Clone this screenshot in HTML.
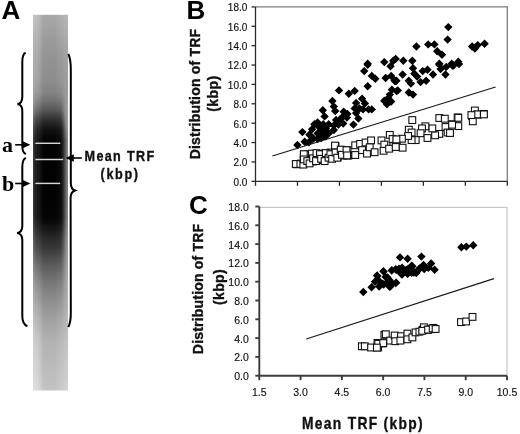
<!DOCTYPE html>
<html><head><meta charset="utf-8">
<style>
html,body{margin:0;padding:0;background:#fff;}
body{width:520px;height:434px;overflow:hidden;position:relative;}
svg{position:absolute;left:0;top:0;will-change:transform;}
text{font-family:"Liberation Sans",sans-serif;}
.tk{font-size:10px;fill:#111;stroke:#111;stroke-width:0.15px;}
.ttl{font-size:14px;font-weight:bold;fill:#111;letter-spacing:0.4px;stroke:#111;stroke-width:0.35px;}
.pl{font-size:26px;font-weight:bold;fill:#000;}
</style></head><body>
<svg width="520" height="434" viewBox="0 0 520 434">
<defs>
<linearGradient id="c0" x1="0" y1="0" x2="0" y2="1"><stop offset="0.0000" stop-color="#c3c3c3"/><stop offset="0.0671" stop-color="#b7b7b7"/><stop offset="0.1203" stop-color="#aeaeae"/><stop offset="0.1735" stop-color="#a9a9a9"/><stop offset="0.2055" stop-color="#a3a3a3"/><stop offset="0.2268" stop-color="#989898"/><stop offset="0.2534" stop-color="#858585"/><stop offset="0.2747" stop-color="#6b6b6b"/><stop offset="0.2907" stop-color="#585858"/><stop offset="0.2933" stop-color="#555555"/><stop offset="0.3066" stop-color="#484848"/><stop offset="0.3226" stop-color="#3d3d3d"/><stop offset="0.3332" stop-color="#383838"/><stop offset="0.3386" stop-color="#363636"/><stop offset="0.4929" stop-color="#363636"/><stop offset="0.5329" stop-color="#373737"/><stop offset="0.5409" stop-color="#383838"/><stop offset="0.5675" stop-color="#494949"/><stop offset="0.5941" stop-color="#5a5a5a"/><stop offset="0.5994" stop-color="#5d5d5d"/><stop offset="0.6207" stop-color="#686868"/><stop offset="0.6260" stop-color="#6b6b6b"/><stop offset="0.6473" stop-color="#797979"/><stop offset="0.6739" stop-color="#898989"/><stop offset="0.6793" stop-color="#8c8c8c"/><stop offset="0.7059" stop-color="#999999"/><stop offset="0.7378" stop-color="#a7a7a7"/><stop offset="0.7591" stop-color="#aeaeae"/><stop offset="0.7724" stop-color="#b3b3b3"/><stop offset="0.8124" stop-color="#bfbfbf"/><stop offset="0.8656" stop-color="#cdcdcd"/><stop offset="1.0000" stop-color="#dfdfdf"/></linearGradient><linearGradient id="c1" x1="0" y1="0" x2="0" y2="1"><stop offset="0.0000" stop-color="#c2c2c2"/><stop offset="0.0671" stop-color="#b6b6b6"/><stop offset="0.1203" stop-color="#adadad"/><stop offset="0.1735" stop-color="#a8a8a8"/><stop offset="0.2055" stop-color="#a0a0a0"/><stop offset="0.2268" stop-color="#949494"/><stop offset="0.2534" stop-color="#7d7d7d"/><stop offset="0.2747" stop-color="#606060"/><stop offset="0.2907" stop-color="#4d4d4d"/><stop offset="0.2933" stop-color="#4a4a4a"/><stop offset="0.3066" stop-color="#3d3d3d"/><stop offset="0.3226" stop-color="#323232"/><stop offset="0.3332" stop-color="#2e2e2e"/><stop offset="0.3386" stop-color="#2c2c2c"/><stop offset="0.4929" stop-color="#2b2b2b"/><stop offset="0.5329" stop-color="#2d2d2d"/><stop offset="0.5409" stop-color="#2e2e2e"/><stop offset="0.5675" stop-color="#3e3e3e"/><stop offset="0.5941" stop-color="#515151"/><stop offset="0.5994" stop-color="#535353"/><stop offset="0.6207" stop-color="#5f5f5f"/><stop offset="0.6260" stop-color="#626262"/><stop offset="0.6473" stop-color="#717171"/><stop offset="0.6739" stop-color="#838383"/><stop offset="0.6793" stop-color="#868686"/><stop offset="0.7059" stop-color="#949494"/><stop offset="0.7378" stop-color="#a3a3a3"/><stop offset="0.7591" stop-color="#ababab"/><stop offset="0.7724" stop-color="#b0b0b0"/><stop offset="0.8124" stop-color="#bdbdbd"/><stop offset="0.8656" stop-color="#cccccc"/><stop offset="1.0000" stop-color="#dedede"/></linearGradient><linearGradient id="c2" x1="0" y1="0" x2="0" y2="1"><stop offset="0.0000" stop-color="#c1c1c1"/><stop offset="0.0671" stop-color="#b5b5b5"/><stop offset="0.1203" stop-color="#acacac"/><stop offset="0.1735" stop-color="#a7a7a7"/><stop offset="0.2055" stop-color="#9e9e9e"/><stop offset="0.2268" stop-color="#8f8f8f"/><stop offset="0.2534" stop-color="#757575"/><stop offset="0.2747" stop-color="#565656"/><stop offset="0.2907" stop-color="#424242"/><stop offset="0.2933" stop-color="#3f3f3f"/><stop offset="0.3066" stop-color="#323232"/><stop offset="0.3226" stop-color="#282828"/><stop offset="0.3332" stop-color="#242424"/><stop offset="0.3386" stop-color="#222222"/><stop offset="0.4929" stop-color="#222222"/><stop offset="0.5329" stop-color="#232323"/><stop offset="0.5409" stop-color="#242424"/><stop offset="0.5675" stop-color="#353535"/><stop offset="0.5941" stop-color="#474747"/><stop offset="0.5994" stop-color="#4a4a4a"/><stop offset="0.6207" stop-color="#565656"/><stop offset="0.6260" stop-color="#5a5a5a"/><stop offset="0.6473" stop-color="#6a6a6a"/><stop offset="0.6739" stop-color="#7c7c7c"/><stop offset="0.6793" stop-color="#808080"/><stop offset="0.7059" stop-color="#8f8f8f"/><stop offset="0.7378" stop-color="#9f9f9f"/><stop offset="0.7591" stop-color="#a7a7a7"/><stop offset="0.7724" stop-color="#adadad"/><stop offset="0.8124" stop-color="#bbbbbb"/><stop offset="0.8656" stop-color="#cbcbcb"/><stop offset="1.0000" stop-color="#dddddd"/></linearGradient><linearGradient id="c3" x1="0" y1="0" x2="0" y2="1"><stop offset="0.0000" stop-color="#bfbfbf"/><stop offset="0.0671" stop-color="#b3b3b3"/><stop offset="0.1203" stop-color="#aaaaaa"/><stop offset="0.1735" stop-color="#a5a5a5"/><stop offset="0.2055" stop-color="#9b9b9b"/><stop offset="0.2268" stop-color="#8c8c8c"/><stop offset="0.2534" stop-color="#6f6f6f"/><stop offset="0.2747" stop-color="#4e4e4e"/><stop offset="0.2907" stop-color="#3a3a3a"/><stop offset="0.2933" stop-color="#383838"/><stop offset="0.3066" stop-color="#2a2a2a"/><stop offset="0.3226" stop-color="#212121"/><stop offset="0.3332" stop-color="#1e1e1e"/><stop offset="0.3386" stop-color="#1c1c1c"/><stop offset="0.4929" stop-color="#1b1b1b"/><stop offset="0.5329" stop-color="#1d1d1d"/><stop offset="0.5409" stop-color="#1d1d1d"/><stop offset="0.5675" stop-color="#2e2e2e"/><stop offset="0.5941" stop-color="#414141"/><stop offset="0.5994" stop-color="#444444"/><stop offset="0.6207" stop-color="#505050"/><stop offset="0.6260" stop-color="#545454"/><stop offset="0.6473" stop-color="#656565"/><stop offset="0.6739" stop-color="#787878"/><stop offset="0.6793" stop-color="#7b7b7b"/><stop offset="0.7059" stop-color="#8b8b8b"/><stop offset="0.7378" stop-color="#9c9c9c"/><stop offset="0.7591" stop-color="#a4a4a4"/><stop offset="0.7724" stop-color="#aaaaaa"/><stop offset="0.8124" stop-color="#b9b9b9"/><stop offset="0.8656" stop-color="#c9c9c9"/><stop offset="1.0000" stop-color="#dbdbdb"/></linearGradient><linearGradient id="c4" x1="0" y1="0" x2="0" y2="1"><stop offset="0.0000" stop-color="#bdbdbd"/><stop offset="0.0671" stop-color="#b1b1b1"/><stop offset="0.1203" stop-color="#a8a8a8"/><stop offset="0.1735" stop-color="#a3a3a3"/><stop offset="0.2055" stop-color="#999999"/><stop offset="0.2268" stop-color="#898989"/><stop offset="0.2534" stop-color="#6c6c6c"/><stop offset="0.2747" stop-color="#4b4b4b"/><stop offset="0.2907" stop-color="#373737"/><stop offset="0.2933" stop-color="#343434"/><stop offset="0.3066" stop-color="#272727"/><stop offset="0.3226" stop-color="#1e1e1e"/><stop offset="0.3332" stop-color="#1a1a1a"/><stop offset="0.3386" stop-color="#191919"/><stop offset="0.4929" stop-color="#181818"/><stop offset="0.5329" stop-color="#1a1a1a"/><stop offset="0.5409" stop-color="#1a1a1a"/><stop offset="0.5675" stop-color="#2b2b2b"/><stop offset="0.5941" stop-color="#3e3e3e"/><stop offset="0.5994" stop-color="#414141"/><stop offset="0.6207" stop-color="#4d4d4d"/><stop offset="0.6260" stop-color="#515151"/><stop offset="0.6473" stop-color="#626262"/><stop offset="0.6739" stop-color="#757575"/><stop offset="0.6793" stop-color="#787878"/><stop offset="0.7059" stop-color="#898989"/><stop offset="0.7378" stop-color="#999999"/><stop offset="0.7591" stop-color="#a2a2a2"/><stop offset="0.7724" stop-color="#a8a8a8"/><stop offset="0.8124" stop-color="#b7b7b7"/><stop offset="0.8656" stop-color="#c7c7c7"/><stop offset="1.0000" stop-color="#d9d9d9"/></linearGradient><linearGradient id="c5" x1="0" y1="0" x2="0" y2="1"><stop offset="0.0000" stop-color="#bbbbbb"/><stop offset="0.0671" stop-color="#afafaf"/><stop offset="0.1203" stop-color="#a6a6a6"/><stop offset="0.1735" stop-color="#a1a1a1"/><stop offset="0.2055" stop-color="#979797"/><stop offset="0.2268" stop-color="#878787"/><stop offset="0.2534" stop-color="#6a6a6a"/><stop offset="0.2747" stop-color="#494949"/><stop offset="0.2907" stop-color="#353535"/><stop offset="0.2933" stop-color="#323232"/><stop offset="0.3066" stop-color="#252525"/><stop offset="0.3226" stop-color="#1c1c1c"/><stop offset="0.3332" stop-color="#181818"/><stop offset="0.3386" stop-color="#171717"/><stop offset="0.4929" stop-color="#161616"/><stop offset="0.5329" stop-color="#181818"/><stop offset="0.5409" stop-color="#181818"/><stop offset="0.5675" stop-color="#292929"/><stop offset="0.5941" stop-color="#3c3c3c"/><stop offset="0.5994" stop-color="#3f3f3f"/><stop offset="0.6207" stop-color="#4b4b4b"/><stop offset="0.6260" stop-color="#4f4f4f"/><stop offset="0.6473" stop-color="#606060"/><stop offset="0.6739" stop-color="#737373"/><stop offset="0.6793" stop-color="#767676"/><stop offset="0.7059" stop-color="#878787"/><stop offset="0.7378" stop-color="#979797"/><stop offset="0.7591" stop-color="#a0a0a0"/><stop offset="0.7724" stop-color="#a6a6a6"/><stop offset="0.8124" stop-color="#b5b5b5"/><stop offset="0.8656" stop-color="#c5c5c5"/><stop offset="1.0000" stop-color="#d7d7d7"/></linearGradient><linearGradient id="c6" x1="0" y1="0" x2="0" y2="1"><stop offset="0.0000" stop-color="#b8b8b8"/><stop offset="0.0671" stop-color="#acacac"/><stop offset="0.1203" stop-color="#a3a3a3"/><stop offset="0.1735" stop-color="#9e9e9e"/><stop offset="0.2055" stop-color="#949494"/><stop offset="0.2268" stop-color="#848484"/><stop offset="0.2534" stop-color="#676767"/><stop offset="0.2747" stop-color="#464646"/><stop offset="0.2907" stop-color="#323232"/><stop offset="0.2933" stop-color="#2f2f2f"/><stop offset="0.3066" stop-color="#222222"/><stop offset="0.3226" stop-color="#191919"/><stop offset="0.3332" stop-color="#151515"/><stop offset="0.3386" stop-color="#141414"/><stop offset="0.4929" stop-color="#131313"/><stop offset="0.5329" stop-color="#141414"/><stop offset="0.5409" stop-color="#151515"/><stop offset="0.5675" stop-color="#262626"/><stop offset="0.5941" stop-color="#393939"/><stop offset="0.5994" stop-color="#3c3c3c"/><stop offset="0.6207" stop-color="#484848"/><stop offset="0.6260" stop-color="#4c4c4c"/><stop offset="0.6473" stop-color="#5d5d5d"/><stop offset="0.6739" stop-color="#707070"/><stop offset="0.6793" stop-color="#737373"/><stop offset="0.7059" stop-color="#848484"/><stop offset="0.7378" stop-color="#949494"/><stop offset="0.7591" stop-color="#9d9d9d"/><stop offset="0.7724" stop-color="#a3a3a3"/><stop offset="0.8124" stop-color="#b2b2b2"/><stop offset="0.8656" stop-color="#c2c2c2"/><stop offset="1.0000" stop-color="#d4d4d4"/></linearGradient><linearGradient id="c7" x1="0" y1="0" x2="0" y2="1"><stop offset="0.0000" stop-color="#b4b4b4"/><stop offset="0.0671" stop-color="#a8a8a8"/><stop offset="0.1203" stop-color="#9f9f9f"/><stop offset="0.1735" stop-color="#9a9a9a"/><stop offset="0.2055" stop-color="#909090"/><stop offset="0.2268" stop-color="#808080"/><stop offset="0.2534" stop-color="#636363"/><stop offset="0.2747" stop-color="#424242"/><stop offset="0.2907" stop-color="#2e2e2e"/><stop offset="0.2933" stop-color="#2b2b2b"/><stop offset="0.3066" stop-color="#1e1e1e"/><stop offset="0.3226" stop-color="#151515"/><stop offset="0.3332" stop-color="#111111"/><stop offset="0.3386" stop-color="#101010"/><stop offset="0.4929" stop-color="#0f0f0f"/><stop offset="0.5329" stop-color="#101010"/><stop offset="0.5409" stop-color="#111111"/><stop offset="0.5675" stop-color="#222222"/><stop offset="0.5941" stop-color="#353535"/><stop offset="0.5994" stop-color="#383838"/><stop offset="0.6207" stop-color="#444444"/><stop offset="0.6260" stop-color="#484848"/><stop offset="0.6473" stop-color="#595959"/><stop offset="0.6739" stop-color="#6c6c6c"/><stop offset="0.6793" stop-color="#6f6f6f"/><stop offset="0.7059" stop-color="#808080"/><stop offset="0.7378" stop-color="#909090"/><stop offset="0.7591" stop-color="#999999"/><stop offset="0.7724" stop-color="#9f9f9f"/><stop offset="0.8124" stop-color="#aeaeae"/><stop offset="0.8656" stop-color="#bebebe"/><stop offset="1.0000" stop-color="#d0d0d0"/></linearGradient><linearGradient id="c8" x1="0" y1="0" x2="0" y2="1"><stop offset="0.0000" stop-color="#b0b0b0"/><stop offset="0.0671" stop-color="#a4a4a4"/><stop offset="0.1203" stop-color="#9b9b9b"/><stop offset="0.1735" stop-color="#969696"/><stop offset="0.2055" stop-color="#8c8c8c"/><stop offset="0.2268" stop-color="#7c7c7c"/><stop offset="0.2534" stop-color="#5f5f5f"/><stop offset="0.2747" stop-color="#3e3e3e"/><stop offset="0.2907" stop-color="#2a2a2a"/><stop offset="0.2933" stop-color="#272727"/><stop offset="0.3066" stop-color="#1a1a1a"/><stop offset="0.3226" stop-color="#111111"/><stop offset="0.3332" stop-color="#0d0d0d"/><stop offset="0.3386" stop-color="#0c0c0c"/><stop offset="0.4929" stop-color="#0b0b0b"/><stop offset="0.5329" stop-color="#0c0c0c"/><stop offset="0.5409" stop-color="#0d0d0d"/><stop offset="0.5675" stop-color="#1e1e1e"/><stop offset="0.5941" stop-color="#313131"/><stop offset="0.5994" stop-color="#343434"/><stop offset="0.6207" stop-color="#404040"/><stop offset="0.6260" stop-color="#444444"/><stop offset="0.6473" stop-color="#555555"/><stop offset="0.6739" stop-color="#686868"/><stop offset="0.6793" stop-color="#6b6b6b"/><stop offset="0.7059" stop-color="#7c7c7c"/><stop offset="0.7378" stop-color="#8c8c8c"/><stop offset="0.7591" stop-color="#959595"/><stop offset="0.7724" stop-color="#9b9b9b"/><stop offset="0.8124" stop-color="#aaaaaa"/><stop offset="0.8656" stop-color="#bababa"/><stop offset="1.0000" stop-color="#cccccc"/></linearGradient><linearGradient id="c9" x1="0" y1="0" x2="0" y2="1"><stop offset="0.0000" stop-color="#acacac"/><stop offset="0.0671" stop-color="#a0a0a0"/><stop offset="0.1203" stop-color="#979797"/><stop offset="0.1735" stop-color="#929292"/><stop offset="0.2055" stop-color="#888888"/><stop offset="0.2268" stop-color="#787878"/><stop offset="0.2534" stop-color="#5b5b5b"/><stop offset="0.2747" stop-color="#3a3a3a"/><stop offset="0.2907" stop-color="#262626"/><stop offset="0.2933" stop-color="#232323"/><stop offset="0.3066" stop-color="#161616"/><stop offset="0.3226" stop-color="#0d0d0d"/><stop offset="0.3332" stop-color="#090909"/><stop offset="0.3386" stop-color="#080808"/><stop offset="0.4929" stop-color="#070707"/><stop offset="0.5329" stop-color="#080808"/><stop offset="0.5409" stop-color="#090909"/><stop offset="0.5675" stop-color="#1a1a1a"/><stop offset="0.5941" stop-color="#2d2d2d"/><stop offset="0.5994" stop-color="#303030"/><stop offset="0.6207" stop-color="#3c3c3c"/><stop offset="0.6260" stop-color="#404040"/><stop offset="0.6473" stop-color="#515151"/><stop offset="0.6739" stop-color="#646464"/><stop offset="0.6793" stop-color="#676767"/><stop offset="0.7059" stop-color="#787878"/><stop offset="0.7378" stop-color="#888888"/><stop offset="0.7591" stop-color="#919191"/><stop offset="0.7724" stop-color="#979797"/><stop offset="0.8124" stop-color="#a6a6a6"/><stop offset="0.8656" stop-color="#b6b6b6"/><stop offset="1.0000" stop-color="#c8c8c8"/></linearGradient><linearGradient id="c10" x1="0" y1="0" x2="0" y2="1"><stop offset="0.0000" stop-color="#a9a9a9"/><stop offset="0.0671" stop-color="#9d9d9d"/><stop offset="0.1203" stop-color="#949494"/><stop offset="0.1735" stop-color="#8f8f8f"/><stop offset="0.2055" stop-color="#858585"/><stop offset="0.2268" stop-color="#757575"/><stop offset="0.2534" stop-color="#585858"/><stop offset="0.2747" stop-color="#373737"/><stop offset="0.2907" stop-color="#232323"/><stop offset="0.2933" stop-color="#202020"/><stop offset="0.3066" stop-color="#131313"/><stop offset="0.3226" stop-color="#0a0a0a"/><stop offset="0.3332" stop-color="#070707"/><stop offset="0.3386" stop-color="#050505"/><stop offset="0.4929" stop-color="#040404"/><stop offset="0.5329" stop-color="#060606"/><stop offset="0.5409" stop-color="#060606"/><stop offset="0.5675" stop-color="#171717"/><stop offset="0.5941" stop-color="#2a2a2a"/><stop offset="0.5994" stop-color="#2d2d2d"/><stop offset="0.6207" stop-color="#393939"/><stop offset="0.6260" stop-color="#3d3d3d"/><stop offset="0.6473" stop-color="#4e4e4e"/><stop offset="0.6739" stop-color="#616161"/><stop offset="0.6793" stop-color="#646464"/><stop offset="0.7059" stop-color="#757575"/><stop offset="0.7378" stop-color="#868686"/><stop offset="0.7591" stop-color="#8e8e8e"/><stop offset="0.7724" stop-color="#949494"/><stop offset="0.8124" stop-color="#a3a3a3"/><stop offset="0.8656" stop-color="#b3b3b3"/><stop offset="1.0000" stop-color="#c5c5c5"/></linearGradient><linearGradient id="c11" x1="0" y1="0" x2="0" y2="1"><stop offset="0.0000" stop-color="#a8a8a8"/><stop offset="0.0671" stop-color="#9c9c9c"/><stop offset="0.1203" stop-color="#939393"/><stop offset="0.1735" stop-color="#8e8e8e"/><stop offset="0.2055" stop-color="#848484"/><stop offset="0.2268" stop-color="#747474"/><stop offset="0.2534" stop-color="#575757"/><stop offset="0.2747" stop-color="#363636"/><stop offset="0.2907" stop-color="#222222"/><stop offset="0.2933" stop-color="#1f1f1f"/><stop offset="0.3066" stop-color="#111111"/><stop offset="0.3226" stop-color="#080808"/><stop offset="0.3332" stop-color="#050505"/><stop offset="0.3386" stop-color="#030303"/><stop offset="0.4929" stop-color="#030303"/><stop offset="0.5329" stop-color="#040404"/><stop offset="0.5409" stop-color="#050505"/><stop offset="0.5675" stop-color="#161616"/><stop offset="0.5941" stop-color="#292929"/><stop offset="0.5994" stop-color="#2c2c2c"/><stop offset="0.6207" stop-color="#383838"/><stop offset="0.6260" stop-color="#3b3b3b"/><stop offset="0.6473" stop-color="#4c4c4c"/><stop offset="0.6739" stop-color="#606060"/><stop offset="0.6793" stop-color="#636363"/><stop offset="0.7059" stop-color="#737373"/><stop offset="0.7378" stop-color="#848484"/><stop offset="0.7591" stop-color="#8d8d8d"/><stop offset="0.7724" stop-color="#939393"/><stop offset="0.8124" stop-color="#a2a2a2"/><stop offset="0.8656" stop-color="#b2b2b2"/><stop offset="1.0000" stop-color="#c4c4c4"/></linearGradient><linearGradient id="c12" x1="0" y1="0" x2="0" y2="1"><stop offset="0.0000" stop-color="#a7a7a7"/><stop offset="0.0671" stop-color="#9b9b9b"/><stop offset="0.1203" stop-color="#929292"/><stop offset="0.1735" stop-color="#8d8d8d"/><stop offset="0.2055" stop-color="#838383"/><stop offset="0.2268" stop-color="#737373"/><stop offset="0.2534" stop-color="#565656"/><stop offset="0.2747" stop-color="#353535"/><stop offset="0.2907" stop-color="#212121"/><stop offset="0.2933" stop-color="#1e1e1e"/><stop offset="0.3066" stop-color="#111111"/><stop offset="0.3226" stop-color="#080808"/><stop offset="0.3332" stop-color="#040404"/><stop offset="0.3386" stop-color="#030303"/><stop offset="0.4929" stop-color="#020202"/><stop offset="0.5329" stop-color="#040404"/><stop offset="0.5409" stop-color="#040404"/><stop offset="0.5675" stop-color="#151515"/><stop offset="0.5941" stop-color="#282828"/><stop offset="0.5994" stop-color="#2b2b2b"/><stop offset="0.6207" stop-color="#373737"/><stop offset="0.6260" stop-color="#3b3b3b"/><stop offset="0.6473" stop-color="#4c4c4c"/><stop offset="0.6739" stop-color="#5f5f5f"/><stop offset="0.6793" stop-color="#626262"/><stop offset="0.7059" stop-color="#737373"/><stop offset="0.7378" stop-color="#838383"/><stop offset="0.7591" stop-color="#8c8c8c"/><stop offset="0.7724" stop-color="#929292"/><stop offset="0.8124" stop-color="#a1a1a1"/><stop offset="0.8656" stop-color="#b1b1b1"/><stop offset="1.0000" stop-color="#c3c3c3"/></linearGradient><linearGradient id="c13" x1="0" y1="0" x2="0" y2="1"><stop offset="0.0000" stop-color="#a7a7a7"/><stop offset="0.0671" stop-color="#9b9b9b"/><stop offset="0.1203" stop-color="#929292"/><stop offset="0.1735" stop-color="#8d8d8d"/><stop offset="0.2055" stop-color="#838383"/><stop offset="0.2268" stop-color="#737373"/><stop offset="0.2534" stop-color="#565656"/><stop offset="0.2747" stop-color="#353535"/><stop offset="0.2907" stop-color="#212121"/><stop offset="0.2933" stop-color="#1e1e1e"/><stop offset="0.3066" stop-color="#111111"/><stop offset="0.3226" stop-color="#080808"/><stop offset="0.3332" stop-color="#040404"/><stop offset="0.3386" stop-color="#030303"/><stop offset="0.4929" stop-color="#020202"/><stop offset="0.5329" stop-color="#040404"/><stop offset="0.5409" stop-color="#040404"/><stop offset="0.5675" stop-color="#151515"/><stop offset="0.5941" stop-color="#282828"/><stop offset="0.5994" stop-color="#2b2b2b"/><stop offset="0.6207" stop-color="#373737"/><stop offset="0.6260" stop-color="#3b3b3b"/><stop offset="0.6473" stop-color="#4c4c4c"/><stop offset="0.6739" stop-color="#5f5f5f"/><stop offset="0.6793" stop-color="#626262"/><stop offset="0.7059" stop-color="#737373"/><stop offset="0.7378" stop-color="#838383"/><stop offset="0.7591" stop-color="#8c8c8c"/><stop offset="0.7724" stop-color="#929292"/><stop offset="0.8124" stop-color="#a1a1a1"/><stop offset="0.8656" stop-color="#b1b1b1"/><stop offset="1.0000" stop-color="#c3c3c3"/></linearGradient><linearGradient id="c14" x1="0" y1="0" x2="0" y2="1"><stop offset="0.0000" stop-color="#a7a7a7"/><stop offset="0.0671" stop-color="#9b9b9b"/><stop offset="0.1203" stop-color="#929292"/><stop offset="0.1735" stop-color="#8d8d8d"/><stop offset="0.2055" stop-color="#838383"/><stop offset="0.2268" stop-color="#737373"/><stop offset="0.2534" stop-color="#565656"/><stop offset="0.2747" stop-color="#353535"/><stop offset="0.2907" stop-color="#212121"/><stop offset="0.2933" stop-color="#1e1e1e"/><stop offset="0.3066" stop-color="#111111"/><stop offset="0.3226" stop-color="#080808"/><stop offset="0.3332" stop-color="#040404"/><stop offset="0.3386" stop-color="#030303"/><stop offset="0.4929" stop-color="#020202"/><stop offset="0.5329" stop-color="#040404"/><stop offset="0.5409" stop-color="#040404"/><stop offset="0.5675" stop-color="#151515"/><stop offset="0.5941" stop-color="#282828"/><stop offset="0.5994" stop-color="#2b2b2b"/><stop offset="0.6207" stop-color="#373737"/><stop offset="0.6260" stop-color="#3b3b3b"/><stop offset="0.6473" stop-color="#4c4c4c"/><stop offset="0.6739" stop-color="#5f5f5f"/><stop offset="0.6793" stop-color="#626262"/><stop offset="0.7059" stop-color="#737373"/><stop offset="0.7378" stop-color="#838383"/><stop offset="0.7591" stop-color="#8c8c8c"/><stop offset="0.7724" stop-color="#929292"/><stop offset="0.8124" stop-color="#a1a1a1"/><stop offset="0.8656" stop-color="#b1b1b1"/><stop offset="1.0000" stop-color="#c3c3c3"/></linearGradient><linearGradient id="c15" x1="0" y1="0" x2="0" y2="1"><stop offset="0.0000" stop-color="#a7a7a7"/><stop offset="0.0671" stop-color="#9b9b9b"/><stop offset="0.1203" stop-color="#929292"/><stop offset="0.1735" stop-color="#8d8d8d"/><stop offset="0.2055" stop-color="#838383"/><stop offset="0.2268" stop-color="#737373"/><stop offset="0.2534" stop-color="#565656"/><stop offset="0.2747" stop-color="#353535"/><stop offset="0.2907" stop-color="#212121"/><stop offset="0.2933" stop-color="#1e1e1e"/><stop offset="0.3066" stop-color="#111111"/><stop offset="0.3226" stop-color="#080808"/><stop offset="0.3332" stop-color="#040404"/><stop offset="0.3386" stop-color="#030303"/><stop offset="0.4929" stop-color="#020202"/><stop offset="0.5329" stop-color="#040404"/><stop offset="0.5409" stop-color="#040404"/><stop offset="0.5675" stop-color="#151515"/><stop offset="0.5941" stop-color="#282828"/><stop offset="0.5994" stop-color="#2b2b2b"/><stop offset="0.6207" stop-color="#373737"/><stop offset="0.6260" stop-color="#3b3b3b"/><stop offset="0.6473" stop-color="#4c4c4c"/><stop offset="0.6739" stop-color="#5f5f5f"/><stop offset="0.6793" stop-color="#626262"/><stop offset="0.7059" stop-color="#737373"/><stop offset="0.7378" stop-color="#838383"/><stop offset="0.7591" stop-color="#8c8c8c"/><stop offset="0.7724" stop-color="#929292"/><stop offset="0.8124" stop-color="#a1a1a1"/><stop offset="0.8656" stop-color="#b1b1b1"/><stop offset="1.0000" stop-color="#c3c3c3"/></linearGradient><linearGradient id="c16" x1="0" y1="0" x2="0" y2="1"><stop offset="0.0000" stop-color="#a7a7a7"/><stop offset="0.0671" stop-color="#9b9b9b"/><stop offset="0.1203" stop-color="#929292"/><stop offset="0.1735" stop-color="#8d8d8d"/><stop offset="0.2055" stop-color="#838383"/><stop offset="0.2268" stop-color="#737373"/><stop offset="0.2534" stop-color="#565656"/><stop offset="0.2747" stop-color="#353535"/><stop offset="0.2907" stop-color="#212121"/><stop offset="0.2933" stop-color="#1e1e1e"/><stop offset="0.3066" stop-color="#111111"/><stop offset="0.3226" stop-color="#080808"/><stop offset="0.3332" stop-color="#040404"/><stop offset="0.3386" stop-color="#030303"/><stop offset="0.4929" stop-color="#020202"/><stop offset="0.5329" stop-color="#040404"/><stop offset="0.5409" stop-color="#040404"/><stop offset="0.5675" stop-color="#151515"/><stop offset="0.5941" stop-color="#282828"/><stop offset="0.5994" stop-color="#2b2b2b"/><stop offset="0.6207" stop-color="#373737"/><stop offset="0.6260" stop-color="#3b3b3b"/><stop offset="0.6473" stop-color="#4c4c4c"/><stop offset="0.6739" stop-color="#5f5f5f"/><stop offset="0.6793" stop-color="#626262"/><stop offset="0.7059" stop-color="#737373"/><stop offset="0.7378" stop-color="#838383"/><stop offset="0.7591" stop-color="#8c8c8c"/><stop offset="0.7724" stop-color="#929292"/><stop offset="0.8124" stop-color="#a1a1a1"/><stop offset="0.8656" stop-color="#b1b1b1"/><stop offset="1.0000" stop-color="#c3c3c3"/></linearGradient><linearGradient id="c17" x1="0" y1="0" x2="0" y2="1"><stop offset="0.0000" stop-color="#a7a7a7"/><stop offset="0.0671" stop-color="#9b9b9b"/><stop offset="0.1203" stop-color="#929292"/><stop offset="0.1735" stop-color="#8d8d8d"/><stop offset="0.2055" stop-color="#838383"/><stop offset="0.2268" stop-color="#737373"/><stop offset="0.2534" stop-color="#565656"/><stop offset="0.2747" stop-color="#353535"/><stop offset="0.2907" stop-color="#212121"/><stop offset="0.2933" stop-color="#1e1e1e"/><stop offset="0.3066" stop-color="#111111"/><stop offset="0.3226" stop-color="#080808"/><stop offset="0.3332" stop-color="#040404"/><stop offset="0.3386" stop-color="#030303"/><stop offset="0.4929" stop-color="#020202"/><stop offset="0.5329" stop-color="#040404"/><stop offset="0.5409" stop-color="#040404"/><stop offset="0.5675" stop-color="#151515"/><stop offset="0.5941" stop-color="#282828"/><stop offset="0.5994" stop-color="#2b2b2b"/><stop offset="0.6207" stop-color="#373737"/><stop offset="0.6260" stop-color="#3b3b3b"/><stop offset="0.6473" stop-color="#4c4c4c"/><stop offset="0.6739" stop-color="#5f5f5f"/><stop offset="0.6793" stop-color="#626262"/><stop offset="0.7059" stop-color="#737373"/><stop offset="0.7378" stop-color="#838383"/><stop offset="0.7591" stop-color="#8c8c8c"/><stop offset="0.7724" stop-color="#929292"/><stop offset="0.8124" stop-color="#a1a1a1"/><stop offset="0.8656" stop-color="#b1b1b1"/><stop offset="1.0000" stop-color="#c3c3c3"/></linearGradient><linearGradient id="c18" x1="0" y1="0" x2="0" y2="1"><stop offset="0.0000" stop-color="#a7a7a7"/><stop offset="0.0671" stop-color="#9b9b9b"/><stop offset="0.1203" stop-color="#929292"/><stop offset="0.1735" stop-color="#8d8d8d"/><stop offset="0.2055" stop-color="#838383"/><stop offset="0.2268" stop-color="#737373"/><stop offset="0.2534" stop-color="#565656"/><stop offset="0.2747" stop-color="#353535"/><stop offset="0.2907" stop-color="#212121"/><stop offset="0.2933" stop-color="#1e1e1e"/><stop offset="0.3066" stop-color="#111111"/><stop offset="0.3226" stop-color="#080808"/><stop offset="0.3332" stop-color="#040404"/><stop offset="0.3386" stop-color="#030303"/><stop offset="0.4929" stop-color="#020202"/><stop offset="0.5329" stop-color="#040404"/><stop offset="0.5409" stop-color="#040404"/><stop offset="0.5675" stop-color="#151515"/><stop offset="0.5941" stop-color="#282828"/><stop offset="0.5994" stop-color="#2b2b2b"/><stop offset="0.6207" stop-color="#373737"/><stop offset="0.6260" stop-color="#3b3b3b"/><stop offset="0.6473" stop-color="#4c4c4c"/><stop offset="0.6739" stop-color="#5f5f5f"/><stop offset="0.6793" stop-color="#626262"/><stop offset="0.7059" stop-color="#737373"/><stop offset="0.7378" stop-color="#838383"/><stop offset="0.7591" stop-color="#8c8c8c"/><stop offset="0.7724" stop-color="#929292"/><stop offset="0.8124" stop-color="#a1a1a1"/><stop offset="0.8656" stop-color="#b1b1b1"/><stop offset="1.0000" stop-color="#c3c3c3"/></linearGradient><linearGradient id="c19" x1="0" y1="0" x2="0" y2="1"><stop offset="0.0000" stop-color="#a7a7a7"/><stop offset="0.0671" stop-color="#9b9b9b"/><stop offset="0.1203" stop-color="#929292"/><stop offset="0.1735" stop-color="#8d8d8d"/><stop offset="0.2055" stop-color="#838383"/><stop offset="0.2268" stop-color="#737373"/><stop offset="0.2534" stop-color="#565656"/><stop offset="0.2747" stop-color="#353535"/><stop offset="0.2907" stop-color="#212121"/><stop offset="0.2933" stop-color="#1e1e1e"/><stop offset="0.3066" stop-color="#111111"/><stop offset="0.3226" stop-color="#080808"/><stop offset="0.3332" stop-color="#040404"/><stop offset="0.3386" stop-color="#030303"/><stop offset="0.4929" stop-color="#020202"/><stop offset="0.5329" stop-color="#040404"/><stop offset="0.5409" stop-color="#040404"/><stop offset="0.5675" stop-color="#151515"/><stop offset="0.5941" stop-color="#282828"/><stop offset="0.5994" stop-color="#2b2b2b"/><stop offset="0.6207" stop-color="#373737"/><stop offset="0.6260" stop-color="#3b3b3b"/><stop offset="0.6473" stop-color="#4c4c4c"/><stop offset="0.6739" stop-color="#5f5f5f"/><stop offset="0.6793" stop-color="#626262"/><stop offset="0.7059" stop-color="#737373"/><stop offset="0.7378" stop-color="#838383"/><stop offset="0.7591" stop-color="#8c8c8c"/><stop offset="0.7724" stop-color="#929292"/><stop offset="0.8124" stop-color="#a1a1a1"/><stop offset="0.8656" stop-color="#b1b1b1"/><stop offset="1.0000" stop-color="#c3c3c3"/></linearGradient><linearGradient id="c20" x1="0" y1="0" x2="0" y2="1"><stop offset="0.0000" stop-color="#a7a7a7"/><stop offset="0.0671" stop-color="#9b9b9b"/><stop offset="0.1203" stop-color="#929292"/><stop offset="0.1735" stop-color="#8d8d8d"/><stop offset="0.2055" stop-color="#838383"/><stop offset="0.2268" stop-color="#737373"/><stop offset="0.2534" stop-color="#565656"/><stop offset="0.2747" stop-color="#353535"/><stop offset="0.2907" stop-color="#212121"/><stop offset="0.2933" stop-color="#1e1e1e"/><stop offset="0.3066" stop-color="#111111"/><stop offset="0.3226" stop-color="#080808"/><stop offset="0.3332" stop-color="#040404"/><stop offset="0.3386" stop-color="#030303"/><stop offset="0.4929" stop-color="#020202"/><stop offset="0.5329" stop-color="#040404"/><stop offset="0.5409" stop-color="#040404"/><stop offset="0.5675" stop-color="#151515"/><stop offset="0.5941" stop-color="#282828"/><stop offset="0.5994" stop-color="#2b2b2b"/><stop offset="0.6207" stop-color="#373737"/><stop offset="0.6260" stop-color="#3b3b3b"/><stop offset="0.6473" stop-color="#4c4c4c"/><stop offset="0.6739" stop-color="#5f5f5f"/><stop offset="0.6793" stop-color="#626262"/><stop offset="0.7059" stop-color="#737373"/><stop offset="0.7378" stop-color="#838383"/><stop offset="0.7591" stop-color="#8c8c8c"/><stop offset="0.7724" stop-color="#929292"/><stop offset="0.8124" stop-color="#a1a1a1"/><stop offset="0.8656" stop-color="#b1b1b1"/><stop offset="1.0000" stop-color="#c3c3c3"/></linearGradient><linearGradient id="c21" x1="0" y1="0" x2="0" y2="1"><stop offset="0.0000" stop-color="#a7a7a7"/><stop offset="0.0671" stop-color="#9b9b9b"/><stop offset="0.1203" stop-color="#929292"/><stop offset="0.1735" stop-color="#8d8d8d"/><stop offset="0.2055" stop-color="#838383"/><stop offset="0.2268" stop-color="#737373"/><stop offset="0.2534" stop-color="#565656"/><stop offset="0.2747" stop-color="#353535"/><stop offset="0.2907" stop-color="#212121"/><stop offset="0.2933" stop-color="#1e1e1e"/><stop offset="0.3066" stop-color="#111111"/><stop offset="0.3226" stop-color="#080808"/><stop offset="0.3332" stop-color="#040404"/><stop offset="0.3386" stop-color="#030303"/><stop offset="0.4929" stop-color="#020202"/><stop offset="0.5329" stop-color="#040404"/><stop offset="0.5409" stop-color="#040404"/><stop offset="0.5675" stop-color="#151515"/><stop offset="0.5941" stop-color="#282828"/><stop offset="0.5994" stop-color="#2b2b2b"/><stop offset="0.6207" stop-color="#373737"/><stop offset="0.6260" stop-color="#3b3b3b"/><stop offset="0.6473" stop-color="#4c4c4c"/><stop offset="0.6739" stop-color="#5f5f5f"/><stop offset="0.6793" stop-color="#626262"/><stop offset="0.7059" stop-color="#737373"/><stop offset="0.7378" stop-color="#838383"/><stop offset="0.7591" stop-color="#8c8c8c"/><stop offset="0.7724" stop-color="#929292"/><stop offset="0.8124" stop-color="#a1a1a1"/><stop offset="0.8656" stop-color="#b1b1b1"/><stop offset="1.0000" stop-color="#c3c3c3"/></linearGradient><linearGradient id="c22" x1="0" y1="0" x2="0" y2="1"><stop offset="0.0000" stop-color="#a8a8a8"/><stop offset="0.0671" stop-color="#9c9c9c"/><stop offset="0.1203" stop-color="#939393"/><stop offset="0.1735" stop-color="#8e8e8e"/><stop offset="0.2055" stop-color="#848484"/><stop offset="0.2268" stop-color="#747474"/><stop offset="0.2534" stop-color="#575757"/><stop offset="0.2747" stop-color="#363636"/><stop offset="0.2907" stop-color="#222222"/><stop offset="0.2933" stop-color="#1f1f1f"/><stop offset="0.3066" stop-color="#121212"/><stop offset="0.3226" stop-color="#080808"/><stop offset="0.3332" stop-color="#050505"/><stop offset="0.3386" stop-color="#030303"/><stop offset="0.4929" stop-color="#030303"/><stop offset="0.5329" stop-color="#040404"/><stop offset="0.5409" stop-color="#050505"/><stop offset="0.5675" stop-color="#161616"/><stop offset="0.5941" stop-color="#292929"/><stop offset="0.5994" stop-color="#2c2c2c"/><stop offset="0.6207" stop-color="#383838"/><stop offset="0.6260" stop-color="#3b3b3b"/><stop offset="0.6473" stop-color="#4c4c4c"/><stop offset="0.6739" stop-color="#606060"/><stop offset="0.6793" stop-color="#636363"/><stop offset="0.7059" stop-color="#737373"/><stop offset="0.7378" stop-color="#848484"/><stop offset="0.7591" stop-color="#8d8d8d"/><stop offset="0.7724" stop-color="#939393"/><stop offset="0.8124" stop-color="#a2a2a2"/><stop offset="0.8656" stop-color="#b2b2b2"/><stop offset="1.0000" stop-color="#c4c4c4"/></linearGradient><linearGradient id="c23" x1="0" y1="0" x2="0" y2="1"><stop offset="0.0000" stop-color="#aaaaaa"/><stop offset="0.0671" stop-color="#9e9e9e"/><stop offset="0.1203" stop-color="#949494"/><stop offset="0.1735" stop-color="#909090"/><stop offset="0.2055" stop-color="#868686"/><stop offset="0.2268" stop-color="#767676"/><stop offset="0.2534" stop-color="#585858"/><stop offset="0.2747" stop-color="#373737"/><stop offset="0.2907" stop-color="#232323"/><stop offset="0.2933" stop-color="#212121"/><stop offset="0.3066" stop-color="#131313"/><stop offset="0.3226" stop-color="#0a0a0a"/><stop offset="0.3332" stop-color="#070707"/><stop offset="0.3386" stop-color="#050505"/><stop offset="0.4929" stop-color="#040404"/><stop offset="0.5329" stop-color="#060606"/><stop offset="0.5409" stop-color="#060606"/><stop offset="0.5675" stop-color="#171717"/><stop offset="0.5941" stop-color="#2a2a2a"/><stop offset="0.5994" stop-color="#2d2d2d"/><stop offset="0.6207" stop-color="#393939"/><stop offset="0.6260" stop-color="#3d3d3d"/><stop offset="0.6473" stop-color="#4e4e4e"/><stop offset="0.6739" stop-color="#616161"/><stop offset="0.6793" stop-color="#656565"/><stop offset="0.7059" stop-color="#757575"/><stop offset="0.7378" stop-color="#868686"/><stop offset="0.7591" stop-color="#8f8f8f"/><stop offset="0.7724" stop-color="#949494"/><stop offset="0.8124" stop-color="#a4a4a4"/><stop offset="0.8656" stop-color="#b4b4b4"/><stop offset="1.0000" stop-color="#c6c6c6"/></linearGradient><linearGradient id="c24" x1="0" y1="0" x2="0" y2="1"><stop offset="0.0000" stop-color="#ababab"/><stop offset="0.0671" stop-color="#9f9f9f"/><stop offset="0.1203" stop-color="#969696"/><stop offset="0.1735" stop-color="#919191"/><stop offset="0.2055" stop-color="#878787"/><stop offset="0.2268" stop-color="#777777"/><stop offset="0.2534" stop-color="#5a5a5a"/><stop offset="0.2747" stop-color="#393939"/><stop offset="0.2907" stop-color="#252525"/><stop offset="0.2933" stop-color="#222222"/><stop offset="0.3066" stop-color="#151515"/><stop offset="0.3226" stop-color="#0c0c0c"/><stop offset="0.3332" stop-color="#080808"/><stop offset="0.3386" stop-color="#070707"/><stop offset="0.4929" stop-color="#060606"/><stop offset="0.5329" stop-color="#080808"/><stop offset="0.5409" stop-color="#080808"/><stop offset="0.5675" stop-color="#191919"/><stop offset="0.5941" stop-color="#2c2c2c"/><stop offset="0.5994" stop-color="#2f2f2f"/><stop offset="0.6207" stop-color="#3b3b3b"/><stop offset="0.6260" stop-color="#3f3f3f"/><stop offset="0.6473" stop-color="#505050"/><stop offset="0.6739" stop-color="#636363"/><stop offset="0.6793" stop-color="#666666"/><stop offset="0.7059" stop-color="#777777"/><stop offset="0.7378" stop-color="#888888"/><stop offset="0.7591" stop-color="#909090"/><stop offset="0.7724" stop-color="#969696"/><stop offset="0.8124" stop-color="#a5a5a5"/><stop offset="0.8656" stop-color="#b5b5b5"/><stop offset="1.0000" stop-color="#c7c7c7"/></linearGradient><linearGradient id="c25" x1="0" y1="0" x2="0" y2="1"><stop offset="0.0000" stop-color="#acacac"/><stop offset="0.0671" stop-color="#a0a0a0"/><stop offset="0.1203" stop-color="#989898"/><stop offset="0.1735" stop-color="#929292"/><stop offset="0.2055" stop-color="#888888"/><stop offset="0.2268" stop-color="#787878"/><stop offset="0.2534" stop-color="#5b5b5b"/><stop offset="0.2747" stop-color="#3a3a3a"/><stop offset="0.2907" stop-color="#262626"/><stop offset="0.2933" stop-color="#242424"/><stop offset="0.3066" stop-color="#161616"/><stop offset="0.3226" stop-color="#0d0d0d"/><stop offset="0.3332" stop-color="#0a0a0a"/><stop offset="0.3386" stop-color="#080808"/><stop offset="0.4929" stop-color="#080808"/><stop offset="0.5329" stop-color="#090909"/><stop offset="0.5409" stop-color="#090909"/><stop offset="0.5675" stop-color="#1a1a1a"/><stop offset="0.5941" stop-color="#2d2d2d"/><stop offset="0.5994" stop-color="#303030"/><stop offset="0.6207" stop-color="#3c3c3c"/><stop offset="0.6260" stop-color="#404040"/><stop offset="0.6473" stop-color="#515151"/><stop offset="0.6739" stop-color="#646464"/><stop offset="0.6793" stop-color="#686868"/><stop offset="0.7059" stop-color="#787878"/><stop offset="0.7378" stop-color="#898989"/><stop offset="0.7591" stop-color="#929292"/><stop offset="0.7724" stop-color="#989898"/><stop offset="0.8124" stop-color="#a6a6a6"/><stop offset="0.8656" stop-color="#b6b6b6"/><stop offset="1.0000" stop-color="#c8c8c8"/></linearGradient><linearGradient id="c26" x1="0" y1="0" x2="0" y2="1"><stop offset="0.0000" stop-color="#aeaeae"/><stop offset="0.0671" stop-color="#a2a2a2"/><stop offset="0.1203" stop-color="#989898"/><stop offset="0.1735" stop-color="#949494"/><stop offset="0.2055" stop-color="#8a8a8a"/><stop offset="0.2268" stop-color="#7a7a7a"/><stop offset="0.2534" stop-color="#5c5c5c"/><stop offset="0.2747" stop-color="#3b3b3b"/><stop offset="0.2907" stop-color="#272727"/><stop offset="0.2933" stop-color="#252525"/><stop offset="0.3066" stop-color="#171717"/><stop offset="0.3226" stop-color="#0e0e0e"/><stop offset="0.3332" stop-color="#0b0b0b"/><stop offset="0.3386" stop-color="#090909"/><stop offset="0.4929" stop-color="#080808"/><stop offset="0.5329" stop-color="#0a0a0a"/><stop offset="0.5409" stop-color="#0a0a0a"/><stop offset="0.5675" stop-color="#1b1b1b"/><stop offset="0.5941" stop-color="#2e2e2e"/><stop offset="0.5994" stop-color="#313131"/><stop offset="0.6207" stop-color="#3d3d3d"/><stop offset="0.6260" stop-color="#414141"/><stop offset="0.6473" stop-color="#525252"/><stop offset="0.6739" stop-color="#656565"/><stop offset="0.6793" stop-color="#696969"/><stop offset="0.7059" stop-color="#797979"/><stop offset="0.7378" stop-color="#8a8a8a"/><stop offset="0.7591" stop-color="#939393"/><stop offset="0.7724" stop-color="#989898"/><stop offset="0.8124" stop-color="#a8a8a8"/><stop offset="0.8656" stop-color="#b8b8b8"/><stop offset="1.0000" stop-color="#cacaca"/></linearGradient><linearGradient id="c27" x1="0" y1="0" x2="0" y2="1"><stop offset="0.0000" stop-color="#aeaeae"/><stop offset="0.0671" stop-color="#a2a2a2"/><stop offset="0.1203" stop-color="#9a9a9a"/><stop offset="0.1735" stop-color="#949494"/><stop offset="0.2055" stop-color="#8a8a8a"/><stop offset="0.2268" stop-color="#7a7a7a"/><stop offset="0.2534" stop-color="#5d5d5d"/><stop offset="0.2747" stop-color="#3c3c3c"/><stop offset="0.2907" stop-color="#282828"/><stop offset="0.2933" stop-color="#262626"/><stop offset="0.3066" stop-color="#181818"/><stop offset="0.3226" stop-color="#0f0f0f"/><stop offset="0.3332" stop-color="#0c0c0c"/><stop offset="0.3386" stop-color="#0a0a0a"/><stop offset="0.4929" stop-color="#0a0a0a"/><stop offset="0.5329" stop-color="#0b0b0b"/><stop offset="0.5409" stop-color="#0b0b0b"/><stop offset="0.5675" stop-color="#1c1c1c"/><stop offset="0.5941" stop-color="#2f2f2f"/><stop offset="0.5994" stop-color="#323232"/><stop offset="0.6207" stop-color="#3e3e3e"/><stop offset="0.6260" stop-color="#424242"/><stop offset="0.6473" stop-color="#535353"/><stop offset="0.6739" stop-color="#666666"/><stop offset="0.6793" stop-color="#6a6a6a"/><stop offset="0.7059" stop-color="#7a7a7a"/><stop offset="0.7378" stop-color="#8b8b8b"/><stop offset="0.7591" stop-color="#949494"/><stop offset="0.7724" stop-color="#9a9a9a"/><stop offset="0.8124" stop-color="#a8a8a8"/><stop offset="0.8656" stop-color="#b8b8b8"/><stop offset="1.0000" stop-color="#cacaca"/></linearGradient><linearGradient id="c28" x1="0" y1="0" x2="0" y2="1"><stop offset="0.0000" stop-color="#b0b0b0"/><stop offset="0.0671" stop-color="#a4a4a4"/><stop offset="0.1203" stop-color="#9a9a9a"/><stop offset="0.1735" stop-color="#969696"/><stop offset="0.2055" stop-color="#8d8d8d"/><stop offset="0.2268" stop-color="#7e7e7e"/><stop offset="0.2534" stop-color="#656565"/><stop offset="0.2747" stop-color="#464646"/><stop offset="0.2907" stop-color="#323232"/><stop offset="0.2933" stop-color="#2f2f2f"/><stop offset="0.3066" stop-color="#222222"/><stop offset="0.3226" stop-color="#181818"/><stop offset="0.3332" stop-color="#141414"/><stop offset="0.3386" stop-color="#121212"/><stop offset="0.4929" stop-color="#121212"/><stop offset="0.5329" stop-color="#131313"/><stop offset="0.5409" stop-color="#141414"/><stop offset="0.5675" stop-color="#252525"/><stop offset="0.5941" stop-color="#373737"/><stop offset="0.5994" stop-color="#3a3a3a"/><stop offset="0.6207" stop-color="#464646"/><stop offset="0.6260" stop-color="#494949"/><stop offset="0.6473" stop-color="#5a5a5a"/><stop offset="0.6739" stop-color="#6c6c6c"/><stop offset="0.6793" stop-color="#6f6f6f"/><stop offset="0.7059" stop-color="#7e7e7e"/><stop offset="0.7378" stop-color="#8e8e8e"/><stop offset="0.7591" stop-color="#969696"/><stop offset="0.7724" stop-color="#9c9c9c"/><stop offset="0.8124" stop-color="#aaaaaa"/><stop offset="0.8656" stop-color="#bababa"/><stop offset="1.0000" stop-color="#cccccc"/></linearGradient><linearGradient id="c29" x1="0" y1="0" x2="0" y2="1"><stop offset="0.0000" stop-color="#b0b0b0"/><stop offset="0.0671" stop-color="#a4a4a4"/><stop offset="0.1203" stop-color="#9c9c9c"/><stop offset="0.1735" stop-color="#969696"/><stop offset="0.2055" stop-color="#8f8f8f"/><stop offset="0.2268" stop-color="#848484"/><stop offset="0.2534" stop-color="#6f6f6f"/><stop offset="0.2747" stop-color="#535353"/><stop offset="0.2907" stop-color="#404040"/><stop offset="0.2933" stop-color="#3d3d3d"/><stop offset="0.3066" stop-color="#303030"/><stop offset="0.3226" stop-color="#262626"/><stop offset="0.3332" stop-color="#202020"/><stop offset="0.3386" stop-color="#1f1f1f"/><stop offset="0.4929" stop-color="#1e1e1e"/><stop offset="0.5329" stop-color="#202020"/><stop offset="0.5409" stop-color="#212121"/><stop offset="0.5675" stop-color="#313131"/><stop offset="0.5941" stop-color="#434343"/><stop offset="0.5994" stop-color="#464646"/><stop offset="0.6207" stop-color="#515151"/><stop offset="0.6260" stop-color="#545454"/><stop offset="0.6473" stop-color="#636363"/><stop offset="0.6739" stop-color="#747474"/><stop offset="0.6793" stop-color="#777777"/><stop offset="0.7059" stop-color="#848484"/><stop offset="0.7378" stop-color="#939393"/><stop offset="0.7591" stop-color="#9a9a9a"/><stop offset="0.7724" stop-color="#9f9f9f"/><stop offset="0.8124" stop-color="#acacac"/><stop offset="0.8656" stop-color="#bababa"/><stop offset="1.0000" stop-color="#cccccc"/></linearGradient><linearGradient id="c30" x1="0" y1="0" x2="0" y2="1"><stop offset="0.0000" stop-color="#b2b2b2"/><stop offset="0.0671" stop-color="#a6a6a6"/><stop offset="0.1203" stop-color="#9d9d9d"/><stop offset="0.1735" stop-color="#989898"/><stop offset="0.2055" stop-color="#939393"/><stop offset="0.2268" stop-color="#8a8a8a"/><stop offset="0.2534" stop-color="#7b7b7b"/><stop offset="0.2747" stop-color="#646464"/><stop offset="0.2907" stop-color="#535353"/><stop offset="0.2933" stop-color="#505050"/><stop offset="0.3066" stop-color="#434343"/><stop offset="0.3226" stop-color="#383838"/><stop offset="0.3332" stop-color="#313131"/><stop offset="0.3386" stop-color="#303030"/><stop offset="0.4929" stop-color="#303030"/><stop offset="0.5329" stop-color="#313131"/><stop offset="0.5409" stop-color="#323232"/><stop offset="0.5675" stop-color="#424242"/><stop offset="0.5941" stop-color="#535353"/><stop offset="0.5994" stop-color="#555555"/><stop offset="0.6207" stop-color="#5f5f5f"/><stop offset="0.6260" stop-color="#626262"/><stop offset="0.6473" stop-color="#707070"/><stop offset="0.6739" stop-color="#7e7e7e"/><stop offset="0.6793" stop-color="#818181"/><stop offset="0.7059" stop-color="#8c8c8c"/><stop offset="0.7378" stop-color="#989898"/><stop offset="0.7591" stop-color="#9f9f9f"/><stop offset="0.7724" stop-color="#a3a3a3"/><stop offset="0.8124" stop-color="#afafaf"/><stop offset="0.8656" stop-color="#bcbcbc"/><stop offset="1.0000" stop-color="#cecece"/></linearGradient><linearGradient id="c31" x1="0" y1="0" x2="0" y2="1"><stop offset="0.0000" stop-color="#b4b4b4"/><stop offset="0.0671" stop-color="#a8a8a8"/><stop offset="0.1203" stop-color="#9f9f9f"/><stop offset="0.1735" stop-color="#9a9a9a"/><stop offset="0.2055" stop-color="#979797"/><stop offset="0.2268" stop-color="#929292"/><stop offset="0.2534" stop-color="#888888"/><stop offset="0.2747" stop-color="#787878"/><stop offset="0.2907" stop-color="#696969"/><stop offset="0.2933" stop-color="#676767"/><stop offset="0.3066" stop-color="#5b5b5b"/><stop offset="0.3226" stop-color="#505050"/><stop offset="0.3332" stop-color="#484848"/><stop offset="0.3386" stop-color="#474747"/><stop offset="0.4929" stop-color="#474747"/><stop offset="0.5329" stop-color="#484848"/><stop offset="0.5409" stop-color="#4a4a4a"/><stop offset="0.5675" stop-color="#595959"/><stop offset="0.5941" stop-color="#676767"/><stop offset="0.5994" stop-color="#696969"/><stop offset="0.6207" stop-color="#727272"/><stop offset="0.6260" stop-color="#747474"/><stop offset="0.6473" stop-color="#7f7f7f"/><stop offset="0.6739" stop-color="#8b8b8b"/><stop offset="0.6793" stop-color="#8d8d8d"/><stop offset="0.7059" stop-color="#969696"/><stop offset="0.7378" stop-color="#a0a0a0"/><stop offset="0.7591" stop-color="#a5a5a5"/><stop offset="0.7724" stop-color="#a9a9a9"/><stop offset="0.8124" stop-color="#b2b2b2"/><stop offset="0.8656" stop-color="#bebebe"/><stop offset="1.0000" stop-color="#d0d0d0"/></linearGradient><linearGradient id="c32" x1="0" y1="0" x2="0" y2="1"><stop offset="0.0000" stop-color="#b6b6b6"/><stop offset="0.0671" stop-color="#aaaaaa"/><stop offset="0.1203" stop-color="#a1a1a1"/><stop offset="0.1735" stop-color="#9c9c9c"/><stop offset="0.2055" stop-color="#9a9a9a"/><stop offset="0.2268" stop-color="#979797"/><stop offset="0.2534" stop-color="#929292"/><stop offset="0.2747" stop-color="#878787"/><stop offset="0.2907" stop-color="#7c7c7c"/><stop offset="0.2933" stop-color="#7a7a7a"/><stop offset="0.3066" stop-color="#717171"/><stop offset="0.3226" stop-color="#666666"/><stop offset="0.3332" stop-color="#5e5e5e"/><stop offset="0.3386" stop-color="#5e5e5e"/><stop offset="0.4929" stop-color="#5d5d5d"/><stop offset="0.5329" stop-color="#5f5f5f"/><stop offset="0.5409" stop-color="#616161"/><stop offset="0.5675" stop-color="#6d6d6d"/><stop offset="0.5941" stop-color="#797979"/><stop offset="0.5994" stop-color="#7b7b7b"/><stop offset="0.6207" stop-color="#828282"/><stop offset="0.6260" stop-color="#848484"/><stop offset="0.6473" stop-color="#8c8c8c"/><stop offset="0.6739" stop-color="#969696"/><stop offset="0.6793" stop-color="#979797"/><stop offset="0.7059" stop-color="#9e9e9e"/><stop offset="0.7378" stop-color="#a6a6a6"/><stop offset="0.7591" stop-color="#aaaaaa"/><stop offset="0.7724" stop-color="#adadad"/><stop offset="0.8124" stop-color="#b5b5b5"/><stop offset="0.8656" stop-color="#c0c0c0"/><stop offset="1.0000" stop-color="#d2d2d2"/></linearGradient><linearGradient id="c33" x1="0" y1="0" x2="0" y2="1"><stop offset="0.0000" stop-color="#b7b7b7"/><stop offset="0.0671" stop-color="#ababab"/><stop offset="0.1203" stop-color="#a2a2a2"/><stop offset="0.1735" stop-color="#9d9d9d"/><stop offset="0.2055" stop-color="#9c9c9c"/><stop offset="0.2268" stop-color="#9b9b9b"/><stop offset="0.2534" stop-color="#999999"/><stop offset="0.2747" stop-color="#939393"/><stop offset="0.2907" stop-color="#8c8c8c"/><stop offset="0.2933" stop-color="#8b8b8b"/><stop offset="0.3066" stop-color="#848484"/><stop offset="0.3226" stop-color="#7b7b7b"/><stop offset="0.3332" stop-color="#747474"/><stop offset="0.3386" stop-color="#737373"/><stop offset="0.4929" stop-color="#737373"/><stop offset="0.5329" stop-color="#747474"/><stop offset="0.5409" stop-color="#767676"/><stop offset="0.5675" stop-color="#808080"/><stop offset="0.5941" stop-color="#898989"/><stop offset="0.5994" stop-color="#8b8b8b"/><stop offset="0.6207" stop-color="#909090"/><stop offset="0.6260" stop-color="#919191"/><stop offset="0.6473" stop-color="#979797"/><stop offset="0.6739" stop-color="#9e9e9e"/><stop offset="0.6793" stop-color="#a0a0a0"/><stop offset="0.7059" stop-color="#a5a5a5"/><stop offset="0.7378" stop-color="#ababab"/><stop offset="0.7591" stop-color="#aeaeae"/><stop offset="0.7724" stop-color="#b1b1b1"/><stop offset="0.8124" stop-color="#b8b8b8"/><stop offset="0.8656" stop-color="#c1c1c1"/><stop offset="1.0000" stop-color="#d3d3d3"/></linearGradient><linearGradient id="c34" x1="0" y1="0" x2="0" y2="1"><stop offset="0.0000" stop-color="#b8b8b8"/><stop offset="0.0671" stop-color="#acacac"/><stop offset="0.1203" stop-color="#a3a3a3"/><stop offset="0.1735" stop-color="#9e9e9e"/><stop offset="0.2055" stop-color="#9e9e9e"/><stop offset="0.2268" stop-color="#9e9e9e"/><stop offset="0.2534" stop-color="#9d9d9d"/><stop offset="0.2747" stop-color="#9a9a9a"/><stop offset="0.2907" stop-color="#969696"/><stop offset="0.2933" stop-color="#959595"/><stop offset="0.3066" stop-color="#909090"/><stop offset="0.3226" stop-color="#898989"/><stop offset="0.3332" stop-color="#848484"/><stop offset="0.3386" stop-color="#838383"/><stop offset="0.4929" stop-color="#838383"/><stop offset="0.5329" stop-color="#848484"/><stop offset="0.5409" stop-color="#868686"/><stop offset="0.5675" stop-color="#8e8e8e"/><stop offset="0.5941" stop-color="#949494"/><stop offset="0.5994" stop-color="#959595"/><stop offset="0.6207" stop-color="#999999"/><stop offset="0.6260" stop-color="#9a9a9a"/><stop offset="0.6473" stop-color="#9f9f9f"/><stop offset="0.6739" stop-color="#a4a4a4"/><stop offset="0.6793" stop-color="#a5a5a5"/><stop offset="0.7059" stop-color="#a9a9a9"/><stop offset="0.7378" stop-color="#aeaeae"/><stop offset="0.7591" stop-color="#b1b1b1"/><stop offset="0.7724" stop-color="#b3b3b3"/><stop offset="0.8124" stop-color="#bababa"/><stop offset="0.8656" stop-color="#c2c2c2"/><stop offset="1.0000" stop-color="#d4d4d4"/></linearGradient>
</defs>
<!-- Panel A -->
<text class="pl" x="1.5" y="19">A</text>
<rect x="33.00" y="14.8" width="1.05" height="375.70" fill="url(#c0)"/><rect x="34.00" y="14.8" width="1.05" height="375.70" fill="url(#c1)"/><rect x="35.00" y="14.8" width="1.05" height="375.70" fill="url(#c2)"/><rect x="36.00" y="14.8" width="1.05" height="375.70" fill="url(#c3)"/><rect x="37.00" y="14.8" width="1.05" height="375.70" fill="url(#c4)"/><rect x="38.00" y="14.8" width="1.05" height="375.70" fill="url(#c5)"/><rect x="39.00" y="14.8" width="1.05" height="375.70" fill="url(#c6)"/><rect x="40.00" y="14.8" width="1.05" height="375.70" fill="url(#c7)"/><rect x="41.00" y="14.8" width="1.05" height="375.70" fill="url(#c8)"/><rect x="42.00" y="14.8" width="1.05" height="375.70" fill="url(#c9)"/><rect x="43.00" y="14.8" width="1.05" height="375.70" fill="url(#c10)"/><rect x="44.00" y="14.8" width="1.05" height="375.70" fill="url(#c11)"/><rect x="45.00" y="14.8" width="1.05" height="375.70" fill="url(#c12)"/><rect x="46.00" y="14.8" width="1.05" height="375.70" fill="url(#c13)"/><rect x="47.00" y="14.8" width="1.05" height="375.70" fill="url(#c14)"/><rect x="48.00" y="14.8" width="1.05" height="375.70" fill="url(#c15)"/><rect x="49.00" y="14.8" width="1.05" height="375.70" fill="url(#c16)"/><rect x="50.00" y="14.8" width="1.05" height="375.70" fill="url(#c17)"/><rect x="51.00" y="14.8" width="1.05" height="375.70" fill="url(#c18)"/><rect x="52.00" y="14.8" width="1.05" height="375.70" fill="url(#c19)"/><rect x="53.00" y="14.8" width="1.05" height="375.70" fill="url(#c20)"/><rect x="54.00" y="14.8" width="1.05" height="375.70" fill="url(#c21)"/><rect x="55.00" y="14.8" width="1.05" height="375.70" fill="url(#c22)"/><rect x="56.00" y="14.8" width="1.05" height="375.70" fill="url(#c23)"/><rect x="57.00" y="14.8" width="1.05" height="375.70" fill="url(#c24)"/><rect x="58.00" y="14.8" width="1.05" height="375.70" fill="url(#c25)"/><rect x="59.00" y="14.8" width="1.05" height="375.70" fill="url(#c26)"/><rect x="60.00" y="14.8" width="1.05" height="375.70" fill="url(#c27)"/><rect x="61.00" y="14.8" width="1.05" height="375.70" fill="url(#c28)"/><rect x="62.00" y="14.8" width="1.05" height="375.70" fill="url(#c29)"/><rect x="63.00" y="14.8" width="1.05" height="375.70" fill="url(#c30)"/><rect x="64.00" y="14.8" width="1.05" height="375.70" fill="url(#c31)"/><rect x="65.00" y="14.8" width="1.05" height="375.70" fill="url(#c32)"/><rect x="66.00" y="14.8" width="1.05" height="375.70" fill="url(#c33)"/><rect x="67.00" y="14.8" width="1.05" height="375.70" fill="url(#c34)"/>
<g stroke="#d6d6d6" stroke-width="1.45">
<line x1="35.4" y1="143.3" x2="60.3" y2="143.3"/>
<line x1="35.4" y1="159.5" x2="63.2" y2="159.5"/>
<line x1="35.4" y1="183.4" x2="60.2" y2="183.4"/>
</g>
<g fill="none" stroke="#000" stroke-width="2">
<path d="M25.6,52.7 C23,54 22.3,57 22.3,62 L22.3,97 C22.3,101 21,103.5 17.5,104 C21,104.5 22.3,107 22.3,111 L22.3,146 C22.3,151 23,153 25.8,154"/>
<path d="M25.8,157.8 C23,159 22.3,162 22.3,167 L22.3,226 C22.3,230.5 21,232.5 17.1,233.1 C21,233.7 22.3,236 22.3,240 L22.3,316 C22.3,322 24,325 27.4,326.2"/>
<path d="M68.3,54 C70,57 70.8,62 70.8,70 L70.8,183 C70.8,187 72,189.5 74.9,190.5 C72,191.5 70.6,194 70.6,198 L70.8,313 C70.8,320 70,324 68.3,327.1"/>
</g>
<text x="2" y="151.5" style="font-family:'Liberation Serif',serif;font-weight:bold;font-size:22px">a</text>
<text x="2" y="191.3" style="font-family:'Liberation Serif',serif;font-weight:bold;font-size:22px">b</text>
<g stroke="#000" stroke-width="1.6">
<line x1="15.2" y1="144.8" x2="24" y2="144.8"/>
<line x1="15.2" y1="183.5" x2="24" y2="183.5"/>
<line x1="72" y1="158" x2="81.9" y2="158"/>
</g>
<path d="M30.3,144.8 L22.3,141.1 L22.3,148.5 Z M30.3,183.5 L22.3,179.8 L22.3,187.2 Z M65.6,158 L73.8,154.3 L73.8,161.7 Z" fill="#000"/>
<text class="ttl" style="letter-spacing:1.5px" transform="translate(84.6,160.8) scale(0.9,1)">Mean TRF</text>
<text class="ttl" style="letter-spacing:1.83px" transform="translate(100.6,178.8) scale(0.9,1)">(kbp)</text>

<!-- Panel B -->
<text class="pl" x="186.5" y="18.8">B</text>
<path d="M255.5,6.9 H507.3 V181.3" fill="none" stroke="#7c7c7c" stroke-width="1.3"/>
<path d="M255.5,6.9 V181.3 H507.3" fill="none" stroke="#2a2a2a" stroke-width="1.3"/>
<line x1="251.5" y1="181.30" x2="255.5" y2="181.30" stroke="#2a2a2a" stroke-width="1.3"/>
<text class="tk" style="font-size:10px" x="247.3" y="185.68" text-anchor="end">0.0</text>
<line x1="251.5" y1="161.92" x2="255.5" y2="161.92" stroke="#2a2a2a" stroke-width="1.3"/>
<text class="tk" style="font-size:10px" x="247.3" y="166.30" text-anchor="end">2.0</text>
<line x1="251.5" y1="142.54" x2="255.5" y2="142.54" stroke="#2a2a2a" stroke-width="1.3"/>
<text class="tk" style="font-size:10px" x="247.3" y="146.92" text-anchor="end">4.0</text>
<line x1="251.5" y1="123.17" x2="255.5" y2="123.17" stroke="#2a2a2a" stroke-width="1.3"/>
<text class="tk" style="font-size:10px" x="247.3" y="127.55" text-anchor="end">6.0</text>
<line x1="251.5" y1="103.79" x2="255.5" y2="103.79" stroke="#2a2a2a" stroke-width="1.3"/>
<text class="tk" style="font-size:10px" x="247.3" y="108.17" text-anchor="end">8.0</text>
<line x1="251.5" y1="84.41" x2="255.5" y2="84.41" stroke="#2a2a2a" stroke-width="1.3"/>
<text class="tk" style="font-size:10px" x="247.3" y="88.79" text-anchor="end">10.0</text>
<line x1="251.5" y1="65.03" x2="255.5" y2="65.03" stroke="#2a2a2a" stroke-width="1.3"/>
<text class="tk" style="font-size:10px" x="247.3" y="69.41" text-anchor="end">12.0</text>
<line x1="251.5" y1="45.66" x2="255.5" y2="45.66" stroke="#2a2a2a" stroke-width="1.3"/>
<text class="tk" style="font-size:10px" x="247.3" y="50.04" text-anchor="end">14.0</text>
<line x1="251.5" y1="26.28" x2="255.5" y2="26.28" stroke="#2a2a2a" stroke-width="1.3"/>
<text class="tk" style="font-size:10px" x="247.3" y="30.66" text-anchor="end">16.0</text>
<line x1="251.5" y1="6.90" x2="255.5" y2="6.90" stroke="#2a2a2a" stroke-width="1.3"/>
<text class="tk" style="font-size:10px" x="247.3" y="11.28" text-anchor="end">18.0</text>
<line x1="255.50" y1="181.3" x2="255.50" y2="185.8" stroke="#2a2a2a" stroke-width="1.3"/>
<line x1="297.47" y1="181.3" x2="297.47" y2="185.8" stroke="#2a2a2a" stroke-width="1.3"/>
<line x1="339.43" y1="181.3" x2="339.43" y2="185.8" stroke="#2a2a2a" stroke-width="1.3"/>
<line x1="381.40" y1="181.3" x2="381.40" y2="185.8" stroke="#2a2a2a" stroke-width="1.3"/>
<line x1="423.37" y1="181.3" x2="423.37" y2="185.8" stroke="#2a2a2a" stroke-width="1.3"/>
<line x1="465.33" y1="181.3" x2="465.33" y2="185.8" stroke="#2a2a2a" stroke-width="1.3"/>
<line x1="507.30" y1="181.3" x2="507.30" y2="185.8" stroke="#2a2a2a" stroke-width="1.3"/>
<text class="ttl" style="letter-spacing:0.2px" transform="translate(200,94.0) rotate(-90)" text-anchor="middle">Distribution of TRF</text>
<text class="ttl" transform="translate(218.2,93.6) rotate(-90)" text-anchor="middle">(kbp)</text>
<path fill="#000" d="M367.7,60.6L371.9,64.8L367.7,69.0L363.5,64.8ZM364.2,66.9L368.4,71.1L364.2,75.3L360.0,71.1ZM371.8,71.7L376.0,75.9L371.8,80.1L367.6,75.9ZM375.3,74.5L379.5,78.7L375.3,82.9L371.1,78.7ZM384.3,57.9L388.5,62.1L384.3,66.3L380.1,62.1ZM390.5,62.0L394.7,66.2L390.5,70.4L386.3,66.2ZM393.3,56.5L397.5,60.7L393.3,64.9L389.1,60.7ZM385.6,73.8L389.8,78.0L385.6,82.2L381.4,78.0ZM391.2,71.7L395.4,75.9L391.2,80.1L387.0,75.9ZM394.6,76.5L398.8,80.7L394.6,84.9L390.4,80.7ZM367.7,82.1L371.9,86.3L367.7,90.5L363.5,86.3ZM391.9,85.5L396.1,89.7L391.9,93.9L387.7,89.7ZM396.7,86.9L400.9,91.1L396.7,95.3L392.5,91.1ZM384.3,96.6L388.5,100.8L384.3,105.0L380.1,100.8ZM388.4,93.8L392.6,98.0L388.4,102.2L384.2,98.0ZM387.0,100.1L391.2,104.3L387.0,108.5L382.8,104.3ZM391.2,97.3L395.4,101.5L391.2,105.7L387.0,101.5ZM389.8,90.4L394.0,94.6L389.8,98.8L385.6,94.6ZM403.3,56.5L407.5,60.7L403.3,64.9L399.1,60.7ZM412.3,56.5L416.5,60.7L412.3,64.9L408.1,60.7ZM413.0,64.1L417.2,68.3L413.0,72.5L408.8,68.3ZM402.6,70.3L406.8,74.5L402.6,78.7L398.4,74.5ZM414.4,69.6L418.6,73.8L414.4,78.0L410.2,73.8ZM417.1,72.4L421.3,76.6L417.1,80.8L412.9,76.6ZM422.7,66.9L426.9,71.1L422.7,75.3L418.5,71.1ZM427.5,65.5L431.7,69.7L427.5,73.9L423.3,69.7ZM433.0,70.3L437.2,74.5L433.0,78.7L428.8,74.5ZM439.3,60.6L443.5,64.8L439.3,69.0L435.1,64.8ZM440.6,64.8L444.8,69.0L440.6,73.2L436.4,69.0ZM446.2,62.7L450.4,66.9L446.2,71.1L442.0,66.9ZM452.4,61.3L456.6,65.5L452.4,69.7L448.2,65.5ZM445.5,70.3L449.7,74.5L445.5,78.7L441.3,74.5ZM396.4,76.5L400.6,80.7L396.4,84.9L392.2,80.7ZM408.8,76.5L413.0,80.7L408.8,84.9L404.6,80.7ZM410.9,79.3L415.1,83.5L410.9,87.7L406.7,83.5ZM420.6,77.9L424.8,82.1L420.6,86.3L416.4,82.1ZM426.1,76.5L430.3,80.7L426.1,84.9L421.9,80.7ZM397.8,86.2L402.0,90.4L397.8,94.6L393.6,90.4ZM408.8,88.3L413.0,92.5L408.8,96.7L404.6,92.5ZM413.0,90.4L417.2,94.6L413.0,98.8L408.8,94.6ZM453.5,61.3L457.7,65.5L453.5,69.7L449.3,65.5ZM459.0,59.9L463.2,64.1L459.0,68.3L454.8,64.1ZM367.7,59.6L371.9,63.8L367.7,68.0L363.5,63.8ZM448.3,22.9L452.5,27.1L448.3,31.3L444.1,27.1ZM447.6,35.4L451.8,39.6L447.6,43.8L443.4,39.6ZM416.4,42.3L420.6,46.5L416.4,50.7L412.2,46.5ZM428.2,40.2L432.4,44.4L428.2,48.6L424.0,44.4ZM434.4,40.2L438.6,44.4L434.4,48.6L430.2,44.4ZM437.2,47.1L441.4,51.3L437.2,55.5L433.0,51.3ZM442.0,50.6L446.2,54.8L442.0,59.0L437.8,54.8ZM395.7,54.7L399.9,58.9L395.7,63.1L391.5,58.9ZM439.3,59.6L443.5,63.8L439.3,68.0L435.1,63.8ZM451.7,59.6L455.9,63.8L451.7,68.0L447.5,63.8ZM472.1,42.3L476.3,46.5L472.1,50.7L467.9,46.5ZM474.9,44.4L479.1,48.6L474.9,52.8L470.7,48.6ZM477.7,40.9L481.9,45.1L477.7,49.3L473.5,45.1ZM484.6,39.5L488.8,43.7L484.6,47.9L480.4,43.7ZM458.3,57.5L462.5,61.7L458.3,65.9L454.1,61.7ZM297.4,140.8L301.6,145.0L297.4,149.2L293.2,145.0ZM302.4,127.9L306.6,132.1L302.4,136.3L298.2,132.1ZM304.7,137.5L308.9,141.7L304.7,145.9L300.5,141.7ZM308.9,138.0L313.1,142.2L308.9,146.4L304.7,142.2ZM309.4,130.6L313.6,134.8L309.4,139.0L305.2,134.8ZM312.1,125.1L316.3,129.3L312.1,133.5L307.9,129.3ZM314.4,120.0L318.6,124.2L314.4,128.4L310.2,124.2ZM317.6,118.2L321.8,122.4L317.6,126.6L313.4,122.4ZM324.6,112.2L328.8,116.4L324.6,120.6L320.4,116.4ZM313.5,134.3L317.7,138.5L313.5,142.7L309.3,138.5ZM317.6,129.2L321.8,133.4L317.6,137.6L313.4,133.4ZM319.5,123.2L323.7,127.4L319.5,131.6L315.3,127.4ZM323.2,120.0L327.4,124.2L323.2,128.4L319.0,124.2ZM322.3,128.3L326.5,132.5L322.3,136.7L318.1,132.5ZM325.9,124.6L330.1,128.8L325.9,133.0L321.7,128.8ZM328.7,120.0L332.9,124.2L328.7,128.4L324.5,124.2ZM317.6,134.8L321.8,139.0L317.6,143.2L313.4,139.0ZM321.3,133.8L325.5,138.0L321.3,142.2L317.1,138.0ZM325.9,132.0L330.1,136.2L325.9,140.4L321.7,136.2ZM328.7,129.2L332.9,133.4L328.7,137.6L324.5,133.4ZM332.4,96.8L336.6,101.0L332.4,105.2L328.2,101.0ZM333.8,102.3L338.0,106.5L333.8,110.7L329.6,106.5ZM335.2,106.9L339.4,111.1L335.2,115.3L331.0,111.1ZM336.1,115.7L340.3,119.9L336.1,124.1L331.9,119.9ZM339.8,115.2L344.0,119.4L339.8,123.6L335.6,119.4ZM338.4,120.3L342.6,124.5L338.4,128.7L334.2,124.5ZM333.8,121.2L338.0,125.4L333.8,129.6L329.6,125.4ZM333.8,125.8L338.0,130.0L333.8,134.2L329.6,130.0ZM322.8,106.0L327.0,110.2L322.8,114.4L318.6,110.2ZM348.8,89.5L353.0,93.7L348.8,97.9L344.6,93.7ZM354.7,86.7L358.9,90.9L354.7,95.1L350.5,90.9ZM339.0,86.2L343.2,90.4L339.0,94.6L334.8,90.4ZM362.1,94.6L366.3,98.8L362.1,103.0L357.9,98.8ZM356.1,98.7L360.3,102.9L356.1,107.1L351.9,102.9ZM364.9,99.2L369.1,103.4L364.9,107.6L360.7,103.4ZM354.7,104.2L358.9,108.4L354.7,112.6L350.5,108.4ZM359.4,104.2L363.6,108.4L359.4,112.6L355.2,108.4ZM363.0,105.2L367.2,109.4L363.0,113.6L358.8,109.4ZM368.6,105.2L372.8,109.4L368.6,113.6L364.4,109.4ZM371.8,105.2L376.0,109.4L371.8,113.6L367.6,109.4ZM356.1,108.8L360.3,113.0L356.1,117.2L351.9,113.0ZM358.4,114.4L362.6,118.6L358.4,122.8L354.2,118.6ZM353.4,120.4L357.6,124.6L353.4,128.8L349.2,124.6ZM343.7,107.5L347.9,111.7L343.7,115.9L339.5,111.7ZM347.4,109.8L351.6,114.0L347.4,118.2L343.2,114.0ZM342.8,112.5L347.0,116.7L342.8,120.9L338.6,116.7ZM343.2,119.4L347.4,123.6L343.2,127.8L339.0,123.6ZM346.9,113.4L351.1,117.6L346.9,121.8L342.7,117.6Z"/>
<g fill="#fff" stroke="#111" stroke-width="1.1"><rect x="293.4" y="160.9" width="6.8" height="6.8"/><rect x="297.5" y="160.2" width="6.8" height="6.8"/><rect x="301.0" y="151.2" width="6.8" height="6.8"/><rect x="300.3" y="156.7" width="6.8" height="6.8"/><rect x="304.4" y="158.1" width="6.8" height="6.8"/><rect x="305.8" y="151.2" width="6.8" height="6.8"/><rect x="309.3" y="158.1" width="6.8" height="6.8"/><rect x="310.6" y="151.9" width="6.8" height="6.8"/><rect x="314.8" y="156.7" width="6.8" height="6.8"/><rect x="316.2" y="150.5" width="6.8" height="6.8"/><rect x="319.6" y="155.3" width="6.8" height="6.8"/><rect x="321.7" y="149.8" width="6.8" height="6.8"/><rect x="325.9" y="153.9" width="6.8" height="6.8"/><rect x="327.2" y="149.1" width="6.8" height="6.8"/><rect x="332.1" y="142.9" width="6.8" height="6.8"/><rect x="332.1" y="149.8" width="6.8" height="6.8"/><rect x="334.2" y="153.9" width="6.8" height="6.8"/><rect x="338.3" y="147.0" width="6.8" height="6.8"/><rect x="338.3" y="151.2" width="6.8" height="6.8"/><rect x="454.2" y="114.0" width="6.8" height="6.8"/><rect x="471.5" y="107.1" width="6.8" height="6.8"/><rect x="474.3" y="111.2" width="6.8" height="6.8"/><rect x="480.5" y="110.5" width="6.8" height="6.8"/><rect x="468.7" y="112.6" width="6.8" height="6.8"/><rect x="338.7" y="146.7" width="6.8" height="6.8"/><rect x="344.2" y="146.7" width="6.8" height="6.8"/><rect x="339.4" y="152.2" width="6.8" height="6.8"/><rect x="344.9" y="152.2" width="6.8" height="6.8"/><rect x="351.8" y="151.6" width="6.8" height="6.8"/><rect x="351.8" y="141.9" width="6.8" height="6.8"/><rect x="356.7" y="140.5" width="6.8" height="6.8"/><rect x="358.7" y="146.7" width="6.8" height="6.8"/><rect x="363.6" y="150.2" width="6.8" height="6.8"/><rect x="362.2" y="139.1" width="6.8" height="6.8"/><rect x="367.7" y="137.0" width="6.8" height="6.8"/><rect x="366.3" y="143.9" width="6.8" height="6.8"/><rect x="371.2" y="148.8" width="6.8" height="6.8"/><rect x="378.1" y="137.0" width="6.8" height="6.8"/><rect x="380.9" y="141.2" width="6.8" height="6.8"/><rect x="380.2" y="147.4" width="6.8" height="6.8"/><rect x="386.4" y="131.5" width="6.8" height="6.8"/><rect x="389.2" y="135.6" width="6.8" height="6.8"/><rect x="389.9" y="142.6" width="6.8" height="6.8"/><rect x="393.3" y="137.0" width="6.8" height="6.8"/><rect x="385.7" y="145.3" width="6.8" height="6.8"/><rect x="408.9" y="116.7" width="6.8" height="6.8"/><rect x="435.9" y="114.6" width="6.8" height="6.8"/><rect x="441.4" y="115.3" width="6.8" height="6.8"/><rect x="449.0" y="120.8" width="6.8" height="6.8"/><rect x="442.1" y="123.6" width="6.8" height="6.8"/><rect x="444.2" y="129.1" width="6.8" height="6.8"/><rect x="435.9" y="130.5" width="6.8" height="6.8"/><rect x="431.7" y="131.9" width="6.8" height="6.8"/><rect x="428.9" y="125.0" width="6.8" height="6.8"/><rect x="422.0" y="122.9" width="6.8" height="6.8"/><rect x="418.6" y="125.0" width="6.8" height="6.8"/><rect x="417.2" y="129.8" width="6.8" height="6.8"/><rect x="424.1" y="134.6" width="6.8" height="6.8"/><rect x="412.3" y="136.7" width="6.8" height="6.8"/><rect x="408.2" y="136.7" width="6.8" height="6.8"/><rect x="405.4" y="126.3" width="6.8" height="6.8"/><rect x="408.2" y="129.1" width="6.8" height="6.8"/><rect x="404.7" y="132.6" width="6.8" height="6.8"/><rect x="398.5" y="135.3" width="6.8" height="6.8"/><rect x="399.2" y="144.3" width="6.8" height="6.8"/><rect x="393.0" y="136.0" width="6.8" height="6.8"/><rect x="392.3" y="143.6" width="6.8" height="6.8"/><rect x="473.6" y="111.0" width="6.8" height="6.8"/><rect x="480.5" y="111.0" width="6.8" height="6.8"/><rect x="469.4" y="117.9" width="6.8" height="6.8"/><rect x="468.0" y="111.7" width="6.8" height="6.8"/><rect x="454.9" y="114.4" width="6.8" height="6.8"/><rect x="454.9" y="122.7" width="6.8" height="6.8"/><rect x="448.7" y="121.3" width="6.8" height="6.8"/><rect x="446.6" y="129.6" width="6.8" height="6.8"/><rect x="292.4" y="160.6" width="6.8" height="6.8"/><rect x="297.0" y="160.6" width="6.8" height="6.8"/><rect x="299.9" y="161.2" width="6.8" height="6.8"/><rect x="300.4" y="150.8" width="6.8" height="6.8"/><rect x="300.4" y="156.0" width="6.8" height="6.8"/><rect x="303.9" y="157.7" width="6.8" height="6.8"/><rect x="306.2" y="160.0" width="6.8" height="6.8"/><rect x="308.5" y="150.2" width="6.8" height="6.8"/><rect x="309.7" y="154.9" width="6.8" height="6.8"/><rect x="312.6" y="157.7" width="6.8" height="6.8"/><rect x="313.1" y="149.7" width="6.8" height="6.8"/><rect x="316.6" y="150.8" width="6.8" height="6.8"/><rect x="317.7" y="155.4" width="6.8" height="6.8"/><rect x="321.2" y="157.7" width="6.8" height="6.8"/><rect x="322.4" y="149.7" width="6.8" height="6.8"/><rect x="325.2" y="154.3" width="6.8" height="6.8"/><rect x="327.0" y="150.8" width="6.8" height="6.8"/><rect x="328.7" y="155.4" width="6.8" height="6.8"/><rect x="331.6" y="142.2" width="6.8" height="6.8"/><rect x="332.2" y="149.1" width="6.8" height="6.8"/><rect x="333.9" y="154.3" width="6.8" height="6.8"/><rect x="337.3" y="146.2" width="6.8" height="6.8"/><rect x="338.5" y="151.4" width="6.8" height="6.8"/><rect x="343.1" y="146.8" width="6.8" height="6.8"/><rect x="343.7" y="152.0" width="6.8" height="6.8"/></g>
<line x1="272.4" y1="156" x2="495.6" y2="87" stroke="#1a1a1a" stroke-width="1.3"/>
<!-- Panel C -->
<text class="pl" x="189" y="213.5">C</text>
<path d="M259.3,207.3 H507.0 V375.7" fill="none" stroke="#c6c6c6" stroke-width="1.2"/>
<path d="M259.3,206.5 V375.7 H507.0" fill="none" stroke="#3c3c3c" stroke-width="1.9"/>
<line x1="255.3" y1="375.70" x2="259.3" y2="375.70" stroke="#3c3c3c" stroke-width="1.9"/>
<text class="tk" style="font-size:10.5px" x="248.8" y="380.26" text-anchor="end">0.0</text>
<line x1="255.3" y1="356.90" x2="259.3" y2="356.90" stroke="#3c3c3c" stroke-width="1.9"/>
<text class="tk" style="font-size:10.5px" x="248.8" y="361.46" text-anchor="end">2.0</text>
<line x1="255.3" y1="338.10" x2="259.3" y2="338.10" stroke="#3c3c3c" stroke-width="1.9"/>
<text class="tk" style="font-size:10.5px" x="248.8" y="342.66" text-anchor="end">4.0</text>
<line x1="255.3" y1="319.30" x2="259.3" y2="319.30" stroke="#3c3c3c" stroke-width="1.9"/>
<text class="tk" style="font-size:10.5px" x="248.8" y="323.86" text-anchor="end">6.0</text>
<line x1="255.3" y1="300.50" x2="259.3" y2="300.50" stroke="#3c3c3c" stroke-width="1.9"/>
<text class="tk" style="font-size:10.5px" x="248.8" y="305.06" text-anchor="end">8.0</text>
<line x1="255.3" y1="281.70" x2="259.3" y2="281.70" stroke="#3c3c3c" stroke-width="1.9"/>
<text class="tk" style="font-size:10.5px" x="248.8" y="286.26" text-anchor="end">10.0</text>
<line x1="255.3" y1="262.90" x2="259.3" y2="262.90" stroke="#3c3c3c" stroke-width="1.9"/>
<text class="tk" style="font-size:10.5px" x="248.8" y="267.46" text-anchor="end">12.0</text>
<line x1="255.3" y1="244.10" x2="259.3" y2="244.10" stroke="#3c3c3c" stroke-width="1.9"/>
<text class="tk" style="font-size:10.5px" x="248.8" y="248.66" text-anchor="end">14.0</text>
<line x1="255.3" y1="225.30" x2="259.3" y2="225.30" stroke="#3c3c3c" stroke-width="1.9"/>
<text class="tk" style="font-size:10.5px" x="248.8" y="229.86" text-anchor="end">16.0</text>
<line x1="255.3" y1="206.50" x2="259.3" y2="206.50" stroke="#3c3c3c" stroke-width="1.9"/>
<text class="tk" style="font-size:10.5px" x="248.8" y="211.06" text-anchor="end">18.0</text>
<line x1="259.30" y1="375.7" x2="259.30" y2="380.2" stroke="#3c3c3c" stroke-width="1.9"/>
<text class="tk" style="font-size:10.5px" x="259.30" y="396.3" text-anchor="middle">1.5</text>
<line x1="300.58" y1="375.7" x2="300.58" y2="380.2" stroke="#3c3c3c" stroke-width="1.9"/>
<text class="tk" style="font-size:10.5px" x="300.58" y="396.3" text-anchor="middle">3.0</text>
<line x1="341.87" y1="375.7" x2="341.87" y2="380.2" stroke="#3c3c3c" stroke-width="1.9"/>
<text class="tk" style="font-size:10.5px" x="341.87" y="396.3" text-anchor="middle">4.5</text>
<line x1="383.15" y1="375.7" x2="383.15" y2="380.2" stroke="#3c3c3c" stroke-width="1.9"/>
<text class="tk" style="font-size:10.5px" x="383.15" y="396.3" text-anchor="middle">6.0</text>
<line x1="424.43" y1="375.7" x2="424.43" y2="380.2" stroke="#3c3c3c" stroke-width="1.9"/>
<text class="tk" style="font-size:10.5px" x="424.43" y="396.3" text-anchor="middle">7.5</text>
<line x1="465.72" y1="375.7" x2="465.72" y2="380.2" stroke="#3c3c3c" stroke-width="1.9"/>
<text class="tk" style="font-size:10.5px" x="465.72" y="396.3" text-anchor="middle">9.0</text>
<line x1="507.00" y1="375.7" x2="507.00" y2="380.2" stroke="#3c3c3c" stroke-width="1.9"/>
<text class="tk" style="font-size:10.5px" x="507.00" y="396.3" text-anchor="middle">10.5</text>
<text class="ttl" style="letter-spacing:0.2px" transform="translate(203.4,288.9) rotate(-90)" text-anchor="middle">Distribution of TRF</text>
<text class="ttl" transform="translate(223.5,287) rotate(-90)" text-anchor="middle">(kbp)</text>
<path fill="#000" d="M363.3,287.8L367.5,292.0L363.3,296.2L359.1,292.0ZM371.6,283.0L375.8,287.2L371.6,291.4L367.4,287.2ZM377.1,271.2L381.3,275.4L377.1,279.6L372.9,275.4ZM383.4,267.1L387.6,271.3L383.4,275.5L379.2,271.3ZM379.2,282.3L383.4,286.5L379.2,290.7L375.0,286.5ZM382.7,279.5L386.9,283.7L382.7,287.9L378.5,283.7ZM387.5,273.3L391.7,277.5L387.5,281.7L383.3,277.5ZM390.3,282.3L394.5,286.5L390.3,290.7L386.1,286.5ZM395.8,278.8L400.0,283.0L395.8,287.2L391.6,283.0ZM391.7,266.4L395.9,270.6L391.7,274.8L387.5,270.6ZM396.5,265.7L400.7,269.9L396.5,274.1L392.3,269.9ZM400.6,268.5L404.8,272.7L400.6,276.9L396.4,272.7ZM400.0,253.2L404.2,257.4L400.0,261.6L395.8,257.4ZM407.6,254.6L411.8,258.8L407.6,263.0L403.4,258.8ZM406.2,265.7L410.4,269.9L406.2,274.1L402.0,269.9ZM411.7,261.5L415.9,265.7L411.7,269.9L407.5,265.7ZM411.7,268.5L415.9,272.7L411.7,276.9L407.5,272.7ZM389.6,276.1L393.8,280.3L389.6,284.5L385.4,280.3ZM421.4,252.4L425.6,256.6L421.4,260.8L417.2,256.6ZM402.1,263.5L406.3,267.7L402.1,271.9L397.9,267.7ZM402.1,270.4L406.3,274.6L402.1,278.8L397.9,274.6ZM408.3,264.8L412.5,269.0L408.3,273.2L404.1,269.0ZM412.4,262.1L416.6,266.3L412.4,270.5L408.2,266.3ZM413.8,268.3L418.0,272.5L413.8,276.7L409.6,272.5ZM417.3,266.9L421.5,271.1L417.3,275.3L413.1,271.1ZM423.5,260.7L427.7,264.9L423.5,269.1L419.3,264.9ZM424.2,264.8L428.4,269.0L424.2,273.2L420.0,269.0ZM428.4,263.5L432.6,267.7L428.4,271.9L424.2,267.7ZM431.1,259.3L435.3,263.5L431.1,267.7L426.9,263.5ZM434.6,265.5L438.8,269.7L434.6,273.9L430.4,269.7ZM407.6,269.7L411.8,273.9L407.6,278.1L403.4,273.9ZM419.4,264.2L423.6,268.4L419.4,272.6L415.2,268.4ZM461.4,243.1L465.6,247.3L461.4,251.5L457.2,247.3ZM466.3,242.4L470.5,246.6L466.3,250.8L462.1,246.6ZM473.2,241.0L477.4,245.2L473.2,249.4L469.0,245.2ZM383.7,267.4L387.9,271.6L383.7,275.8L379.5,271.6ZM391.8,266.0L396.0,270.2L391.8,274.4L387.6,270.2ZM395.7,265.0L399.9,269.2L395.7,273.4L391.5,269.2ZM399.0,264.6L403.2,268.8L399.0,273.0L394.8,268.8ZM401.4,269.8L405.6,274.0L401.4,278.2L397.2,274.0ZM407.7,265.0L411.9,269.2L407.7,273.4L403.5,269.2ZM411.5,262.6L415.7,266.8L411.5,271.0L407.3,266.8ZM413.5,267.4L417.7,271.6L413.5,275.8L409.3,271.6ZM416.3,268.9L420.5,273.1L416.3,277.3L412.1,273.1ZM419.2,265.0L423.4,269.2L419.2,273.4L415.0,269.2ZM423.1,261.7L427.3,265.9L423.1,270.1L418.9,265.9ZM377.4,271.8L381.6,276.0L377.4,280.2L373.2,276.0ZM378.8,276.6L383.0,280.8L378.8,285.0L374.6,280.8ZM385.6,272.7L389.8,276.9L385.6,281.1L381.4,276.9ZM387.5,277.5L391.7,281.7L387.5,285.9L383.3,281.7ZM383.7,280.4L387.9,284.6L383.7,288.8L379.5,284.6ZM391.8,279.0L396.0,283.2L391.8,287.4L387.6,283.2ZM396.2,278.5L400.4,282.7L396.2,286.9L392.0,282.7ZM389.4,282.3L393.6,286.5L389.4,290.7L385.2,286.5ZM375.0,277.5L379.2,281.7L375.0,285.9L370.8,281.7Z"/>
<g fill="#fff" stroke="#111" stroke-width="1.1"><rect x="358.5" y="342.9" width="6.8" height="6.8"/><rect x="361.4" y="342.9" width="6.8" height="6.8"/><rect x="367.7" y="344.1" width="6.8" height="6.8"/><rect x="374.1" y="339.5" width="6.8" height="6.8"/><rect x="374.7" y="344.1" width="6.8" height="6.8"/><rect x="379.3" y="340.0" width="6.8" height="6.8"/><rect x="381.0" y="331.4" width="6.8" height="6.8"/><rect x="374.8" y="340.4" width="6.8" height="6.8"/><rect x="379.8" y="339.7" width="6.8" height="6.8"/><rect x="382.4" y="330.9" width="6.8" height="6.8"/><rect x="386.8" y="337.2" width="6.8" height="6.8"/><rect x="391.3" y="332.1" width="6.8" height="6.8"/><rect x="391.9" y="337.8" width="6.8" height="6.8"/><rect x="397.6" y="332.8" width="6.8" height="6.8"/><rect x="397.0" y="337.2" width="6.8" height="6.8"/><rect x="404.0" y="330.2" width="6.8" height="6.8"/><rect x="404.0" y="335.9" width="6.8" height="6.8"/><rect x="409.0" y="334.0" width="6.8" height="6.8"/><rect x="412.2" y="329.0" width="6.8" height="6.8"/><rect x="416.0" y="328.3" width="6.8" height="6.8"/><rect x="419.2" y="326.4" width="6.8" height="6.8"/><rect x="420.5" y="323.9" width="6.8" height="6.8"/><rect x="424.3" y="326.4" width="6.8" height="6.8"/><rect x="427.4" y="325.8" width="6.8" height="6.8"/><rect x="430.0" y="324.5" width="6.8" height="6.8"/><rect x="373.5" y="344.2" width="6.8" height="6.8"/><rect x="457.6" y="318.7" width="6.8" height="6.8"/><rect x="462.7" y="318.1" width="6.8" height="6.8"/><rect x="469.1" y="313.5" width="6.8" height="6.8"/><rect x="418.9" y="327.4" width="6.8" height="6.8"/><rect x="424.7" y="326.2" width="6.8" height="6.8"/><rect x="429.3" y="325.0" width="6.8" height="6.8"/><rect x="432.2" y="325.6" width="6.8" height="6.8"/></g>
<line x1="306.2" y1="339" x2="493.9" y2="278.7" stroke="#1a1a1a" stroke-width="1.3"/>
<text class="ttl" style="font-size:15.7px;letter-spacing:1.49px" transform="translate(302,429) scale(0.88,1)">Mean TRF (kbp)</text>
</svg>
</body></html>
